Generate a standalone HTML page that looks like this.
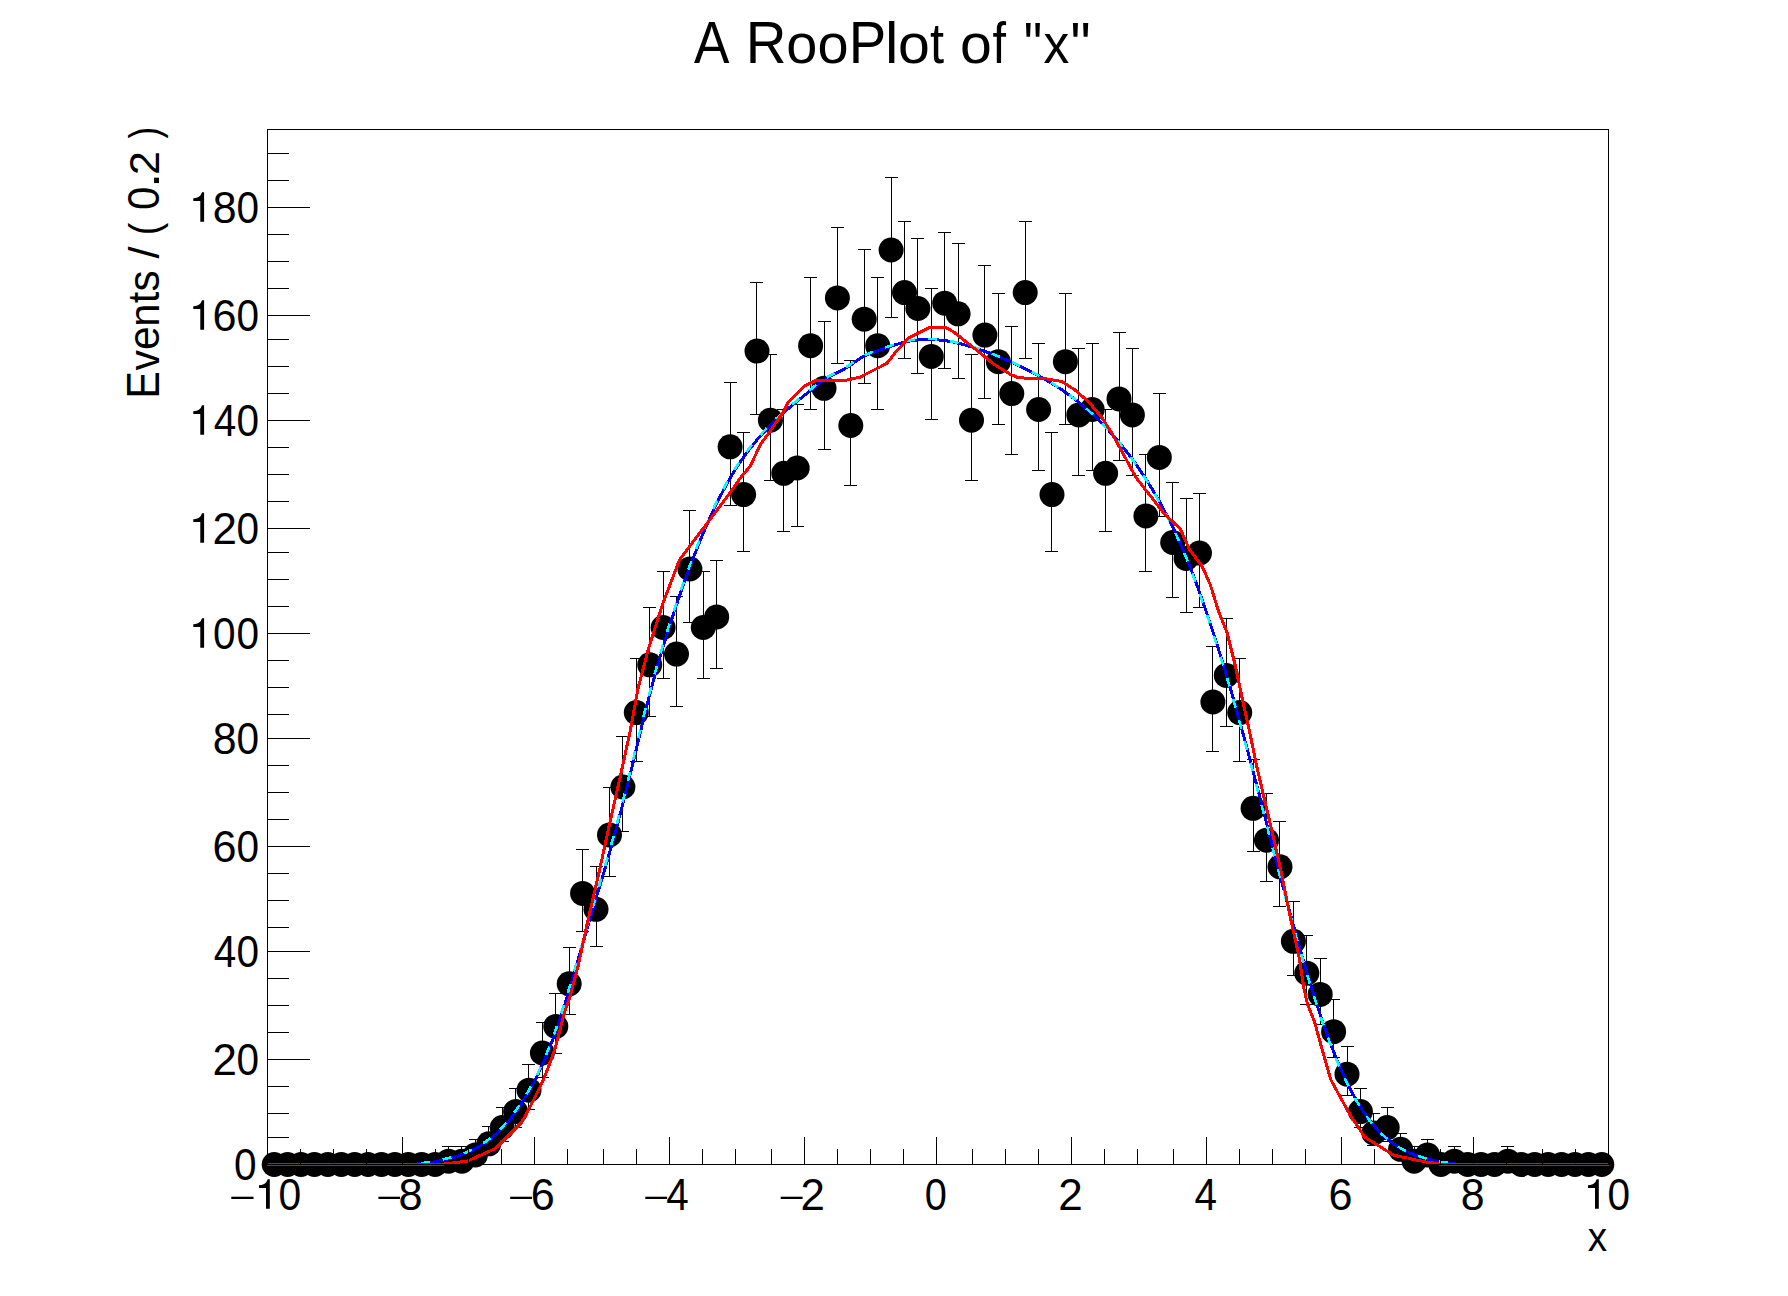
<!DOCTYPE html><html><head><meta charset="utf-8"><style>html,body{margin:0;padding:0;background:#fff;overflow:hidden}svg{display:block}</style></head><body><svg width="1788" height="1296" viewBox="0 0 1788 1296"><rect width="1788" height="1296" fill="#fff"/><path d="M274.5,1154.7V1164.5M268,1154.5H281M268,1164.5H281M287.5,1154.7V1164.5M281,1154.5H294M281,1164.5H294M301.5,1154.7V1164.5M295,1154.5H308M295,1164.5H308M314.5,1154.7V1164.5M308,1154.5H321M308,1164.5H321M327.5,1154.7V1164.5M321,1154.5H334M321,1164.5H334M341.5,1154.7V1164.5M335,1154.5H348M335,1164.5H348M354.5,1154.7V1164.5M348,1154.5H361M348,1164.5H361M368.5,1154.7V1164.5M362,1154.5H375M362,1164.5H375M381.5,1154.7V1164.5M375,1154.5H388M375,1164.5H388M394.5,1154.7V1164.5M388,1154.5H401M388,1164.5H401M408.5,1154.7V1164.5M402,1154.5H415M402,1164.5H415M421.5,1154.7V1164.5M415,1154.5H428M415,1164.5H428M435.5,1154.7V1164.5M429,1154.5H442M429,1164.5H442M448.5,1147.0V1163.6M442,1146.5H455M442,1163.5H455M461.5,1147.0V1163.6M455,1146.5H468M455,1163.5H468M475.5,1139.8V1160.7M469,1139.5H482M469,1160.5H482M488.5,1126.4V1153.4M482,1126.5H495M482,1153.5H495M502.5,1107.2V1141.0M496,1107.5H509M496,1141.5H509M515.5,1088.6V1127.9M509,1088.5H522M509,1127.5H522M528.5,1064.4V1109.7M522,1064.5H535M522,1109.5H535M542.5,1022.8V1077.0M536,1022.5H549M536,1077.5H549M555.5,993.5V1053.2M549,993.5H562M549,1053.5H562M569.5,947.1V1014.6M563,947.5H576M563,1014.5H576M582.5,849.8V931.2M576,849.5H589M576,931.5H589M596.5,866.9V946.0M590,866.5H603M590,946.5H603M609.5,787.5V876.6M603,787.5H616M603,876.5H616M622.5,736.7V831.7M616,736.5H629M616,831.5H629M636.5,658.1V761.5M630,658.5H643M630,761.5H643M649.5,607.7V716.2M643,607.5H656M643,716.5H656M663.5,571.4V678.4M657,571.5H670M657,678.5H670M676.5,596.5V706.1M670,596.5H683M670,706.5H683M689.5,510.0V622.7M683,510.5H696M683,622.5H696M703.5,571.4V678.4M697,571.5H710M697,678.5H710M716.5,560.2V668.2M710,560.5H723M710,668.5H723M730.5,382.3V505.9M724,382.5H737M724,505.5H737M743.5,432.2V551.7M737,432.5H750M737,551.5H750M756.5,282.6V414.2M750,282.5H763M750,414.5H763M770.5,354.5V480.5M764,354.5H777M764,480.5H777M783.5,410.0V531.3M777,409.5H790M777,531.5H790M797.5,404.4V526.3M791,404.5H804M791,526.5H804M810.5,277.0V409.1M804,277.5H817M804,409.5H817M824.5,321.3V449.9M818,321.5H831M818,449.5H831M837.5,227.3V363.2M831,227.5H844M831,363.5H844M850.5,360.1V485.6M844,360.5H857M844,485.5H857M864.5,249.4V383.6M858,249.5H871M858,383.5H871M877.5,277.0V409.1M871,277.5H884M871,409.5H884M891.5,177.6V317.1M885,177.5H898M885,317.5H898M904.5,221.8V358.0M898,221.5H911M898,358.5H911M917.5,238.3V373.4M911,238.5H924M911,373.5H924M931.5,288.1V419.3M925,288.5H938M925,419.5H938M944.5,232.8V368.3M938,232.5H951M938,368.5H951M958.5,243.9V378.5M952,243.5H965M952,378.5H965M971.5,354.5V480.5M965,354.5H978M965,480.5H978M984.5,266.0V398.9M978,265.5H991M978,398.5H991M998.5,293.6V424.4M992,293.5H1005M992,424.5H1005M1011.5,326.8V455.0M1005,326.5H1018M1005,454.5H1018M1025.5,221.8V358.0M1019,221.5H1032M1019,358.5H1032M1038.5,343.5V470.3M1032,343.5H1045M1032,470.5H1045M1051.5,432.2V551.7M1045,432.5H1058M1045,551.5H1058M1065.5,293.6V424.4M1059,293.5H1072M1059,424.5H1072M1078.5,349.0V475.4M1072,348.5H1085M1072,475.5H1085M1092.5,343.5V470.3M1086,343.5H1099M1086,470.5H1099M1105.5,410.0V531.3M1099,409.5H1112M1099,531.5H1112M1119.5,332.4V460.1M1113,332.5H1126M1113,460.5H1126M1132.5,349.0V475.4M1126,348.5H1139M1126,475.5H1139M1145.5,454.4V572.0M1139,454.5H1152M1139,571.5H1152M1159.5,393.3V516.1M1153,393.5H1166M1153,516.5H1166M1172.5,482.2V597.4M1166,482.5H1179M1166,597.5H1179M1186.5,498.9V612.6M1180,498.5H1193M1180,612.5H1193M1199.5,493.3V607.5M1193,493.5H1206M1193,607.5H1206M1212.5,646.8V751.4M1206,646.5H1219M1206,751.5H1219M1226.5,618.9V726.3M1220,618.5H1233M1220,726.5H1233M1239.5,658.1V761.5M1233,658.5H1246M1233,761.5H1246M1253.5,759.2V851.7M1247,759.5H1260M1247,851.5H1260M1266.5,793.1V881.6M1260,793.5H1273M1260,881.5H1273M1279.5,821.4V906.4M1273,821.5H1286M1273,906.5H1286M1293.5,901.2V975.5M1287,901.5H1300M1287,975.5H1300M1306.5,935.6V1004.9M1300,935.5H1313M1300,1004.5H1313M1320.5,958.7V1024.3M1314,958.5H1327M1314,1024.5H1327M1333.5,999.3V1058.0M1327,999.5H1340M1327,1057.5H1340M1347.5,1046.4V1095.8M1341,1046.5H1354M1341,1095.5H1354M1360.5,1088.6V1127.9M1354,1088.5H1367M1354,1127.5H1367M1373.5,1113.5V1145.3M1367,1113.5H1380M1367,1145.5H1380M1387.5,1107.2V1141.0M1381,1107.5H1394M1381,1141.5H1394M1400.5,1133.0V1157.2M1394,1133.5H1407M1394,1157.5H1407M1414.5,1147.0V1163.6M1408,1146.5H1421M1408,1163.5H1421M1427.5,1139.8V1160.7M1421,1139.5H1434M1421,1160.5H1434M1440.5,1154.7V1164.5M1434,1154.5H1447M1434,1164.5H1447M1454.5,1147.0V1163.6M1448,1146.5H1461M1448,1163.5H1461M1467.5,1154.7V1164.5M1461,1154.5H1474M1461,1164.5H1474M1481.5,1154.7V1164.5M1475,1154.5H1488M1475,1164.5H1488M1494.5,1154.7V1164.5M1488,1154.5H1501M1488,1164.5H1501M1507.5,1147.0V1163.6M1501,1146.5H1514M1501,1163.5H1514M1521.5,1154.7V1164.5M1515,1154.5H1528M1515,1164.5H1528M1534.5,1154.7V1164.5M1528,1154.5H1541M1528,1164.5H1541M1548.5,1154.7V1164.5M1542,1154.5H1555M1542,1164.5H1555M1561.5,1154.7V1164.5M1555,1154.5H1568M1555,1164.5H1568M1574.5,1154.7V1164.5M1568,1154.5H1581M1568,1164.5H1581M1588.5,1154.7V1164.5M1582,1154.5H1595M1582,1164.5H1595M1601.5,1154.7V1164.5M1595,1154.5H1608M1595,1164.5H1608" stroke="#000" stroke-width="1" fill="none" shape-rendering="crispEdges"/><g fill="#000"><circle cx="274.2" cy="1164.5" r="12.5"/><circle cx="287.6" cy="1164.5" r="12.5"/><circle cx="301.0" cy="1164.5" r="12.5"/><circle cx="314.4" cy="1164.5" r="12.5"/><circle cx="327.8" cy="1164.5" r="12.5"/><circle cx="341.3" cy="1164.5" r="12.5"/><circle cx="354.7" cy="1164.5" r="12.5"/><circle cx="368.1" cy="1164.5" r="12.5"/><circle cx="381.5" cy="1164.5" r="12.5"/><circle cx="394.9" cy="1164.5" r="12.5"/><circle cx="408.3" cy="1164.5" r="12.5"/><circle cx="421.7" cy="1164.5" r="12.5"/><circle cx="435.1" cy="1164.5" r="12.5"/><circle cx="448.5" cy="1161.2" r="12.5"/><circle cx="461.9" cy="1161.2" r="12.5"/><circle cx="475.4" cy="1154.9" r="12.5"/><circle cx="488.8" cy="1143.8" r="12.5"/><circle cx="502.2" cy="1127.6" r="12.5"/><circle cx="515.6" cy="1111.6" r="12.5"/><circle cx="529.0" cy="1090.2" r="12.5"/><circle cx="542.4" cy="1053.0" r="12.5"/><circle cx="555.8" cy="1026.4" r="12.5"/><circle cx="569.2" cy="983.8" r="12.5"/><circle cx="582.6" cy="893.4" r="12.5"/><circle cx="596.0" cy="909.3" r="12.5"/><circle cx="609.5" cy="834.9" r="12.5"/><circle cx="622.9" cy="787.0" r="12.5"/><circle cx="636.3" cy="712.6" r="12.5"/><circle cx="649.7" cy="664.8" r="12.5"/><circle cx="663.1" cy="627.5" r="12.5"/><circle cx="676.5" cy="654.1" r="12.5"/><circle cx="689.9" cy="569.0" r="12.5"/><circle cx="703.3" cy="627.5" r="12.5"/><circle cx="716.7" cy="616.9" r="12.5"/><circle cx="730.1" cy="446.8" r="12.5"/><circle cx="743.6" cy="494.6" r="12.5"/><circle cx="757.0" cy="351.1" r="12.5"/><circle cx="770.4" cy="420.2" r="12.5"/><circle cx="783.8" cy="473.3" r="12.5"/><circle cx="797.2" cy="468.0" r="12.5"/><circle cx="810.6" cy="345.7" r="12.5"/><circle cx="824.0" cy="388.3" r="12.5"/><circle cx="837.4" cy="297.9" r="12.5"/><circle cx="850.8" cy="425.5" r="12.5"/><circle cx="864.2" cy="319.2" r="12.5"/><circle cx="877.7" cy="345.7" r="12.5"/><circle cx="891.1" cy="250.0" r="12.5"/><circle cx="904.5" cy="292.6" r="12.5"/><circle cx="917.9" cy="308.5" r="12.5"/><circle cx="931.3" cy="356.4" r="12.5"/><circle cx="944.7" cy="303.2" r="12.5"/><circle cx="958.1" cy="313.8" r="12.5"/><circle cx="971.5" cy="420.2" r="12.5"/><circle cx="984.9" cy="335.1" r="12.5"/><circle cx="998.3" cy="361.7" r="12.5"/><circle cx="1011.8" cy="393.6" r="12.5"/><circle cx="1025.2" cy="292.6" r="12.5"/><circle cx="1038.6" cy="409.5" r="12.5"/><circle cx="1052.0" cy="494.6" r="12.5"/><circle cx="1065.4" cy="361.7" r="12.5"/><circle cx="1078.8" cy="414.9" r="12.5"/><circle cx="1092.2" cy="409.5" r="12.5"/><circle cx="1105.6" cy="473.3" r="12.5"/><circle cx="1119.0" cy="398.9" r="12.5"/><circle cx="1132.4" cy="414.9" r="12.5"/><circle cx="1145.9" cy="515.9" r="12.5"/><circle cx="1159.3" cy="457.4" r="12.5"/><circle cx="1172.7" cy="542.5" r="12.5"/><circle cx="1186.1" cy="558.4" r="12.5"/><circle cx="1199.5" cy="553.1" r="12.5"/><circle cx="1212.9" cy="702.0" r="12.5"/><circle cx="1226.3" cy="675.4" r="12.5"/><circle cx="1239.7" cy="712.6" r="12.5"/><circle cx="1253.1" cy="808.3" r="12.5"/><circle cx="1266.5" cy="840.2" r="12.5"/><circle cx="1280.0" cy="866.8" r="12.5"/><circle cx="1293.4" cy="941.3" r="12.5"/><circle cx="1306.8" cy="973.2" r="12.5"/><circle cx="1320.2" cy="994.4" r="12.5"/><circle cx="1333.6" cy="1031.7" r="12.5"/><circle cx="1347.0" cy="1074.2" r="12.5"/><circle cx="1360.4" cy="1111.6" r="12.5"/><circle cx="1373.8" cy="1133.0" r="12.5"/><circle cx="1387.2" cy="1127.6" r="12.5"/><circle cx="1400.6" cy="1149.3" r="12.5"/><circle cx="1414.1" cy="1161.2" r="12.5"/><circle cx="1427.5" cy="1154.9" r="12.5"/><circle cx="1440.9" cy="1164.5" r="12.5"/><circle cx="1454.3" cy="1161.2" r="12.5"/><circle cx="1467.7" cy="1164.5" r="12.5"/><circle cx="1481.1" cy="1164.5" r="12.5"/><circle cx="1494.5" cy="1164.5" r="12.5"/><circle cx="1507.9" cy="1161.2" r="12.5"/><circle cx="1521.3" cy="1164.5" r="12.5"/><circle cx="1534.7" cy="1164.5" r="12.5"/><circle cx="1548.2" cy="1164.5" r="12.5"/><circle cx="1561.6" cy="1164.5" r="12.5"/><circle cx="1575.0" cy="1164.5" r="12.5"/><circle cx="1588.4" cy="1164.5" r="12.5"/><circle cx="1601.8" cy="1164.5" r="12.5"/></g><path d="M267.5,1164.5 L268.2,1164.5 L268.8,1164.5 L269.5,1164.5 L270.2,1164.5 L270.9,1164.5 L271.5,1164.5 L272.2,1164.5 L272.9,1164.5 L273.5,1164.5 L274.2,1164.5 L274.9,1164.5 L275.5,1164.5 L276.2,1164.5 L276.9,1164.5 L277.6,1164.5 L278.2,1164.5 L278.9,1164.5 L279.6,1164.5 L280.2,1164.5 L280.9,1164.5 L281.6,1164.5 L282.3,1164.5 L282.9,1164.5 L283.6,1164.5 L284.3,1164.5 L284.9,1164.5 L285.6,1164.5 L286.3,1164.5 L286.9,1164.5 L287.6,1164.5 L288.3,1164.5 L289.0,1164.5 L289.6,1164.5 L290.3,1164.5 L291.0,1164.5 L291.6,1164.5 L292.3,1164.5 L293.0,1164.5 L293.6,1164.5 L294.3,1164.5 L295.0,1164.5 L295.7,1164.5 L296.3,1164.5 L297.0,1164.5 L297.7,1164.5 L298.3,1164.5 L299.0,1164.5 L299.7,1164.5 L300.4,1164.5 L301.0,1164.5 L301.7,1164.5 L302.4,1164.5 L303.0,1164.5 L303.7,1164.5 L304.4,1164.5 L305.0,1164.5 L305.7,1164.5 L306.4,1164.5 L307.1,1164.5 L307.7,1164.5 L308.4,1164.5 L309.1,1164.5 L309.7,1164.5 L310.4,1164.5 L311.1,1164.5 L311.8,1164.5 L312.4,1164.5 L313.1,1164.5 L313.8,1164.5 L314.4,1164.5 L315.1,1164.5 L315.8,1164.5 L316.4,1164.5 L317.1,1164.5 L317.8,1164.5 L318.5,1164.5 L319.1,1164.5 L319.8,1164.5 L320.5,1164.5 L321.1,1164.5 L321.8,1164.5 L322.5,1164.5 L323.2,1164.5 L323.8,1164.5 L324.5,1164.5 L325.2,1164.5 L325.8,1164.5 L326.5,1164.5 L327.2,1164.5 L327.8,1164.5 L328.5,1164.5 L329.2,1164.5 L329.9,1164.5 L330.5,1164.5 L331.2,1164.5 L331.9,1164.5 L332.5,1164.5 L333.2,1164.5 L333.9,1164.5 L334.6,1164.5 L335.2,1164.5 L335.9,1164.5 L336.6,1164.5 L337.2,1164.5 L337.9,1164.5 L338.6,1164.5 L339.2,1164.5 L339.9,1164.5 L340.6,1164.5 L341.3,1164.5 L341.9,1164.5 L342.6,1164.5 L343.3,1164.5 L343.9,1164.5 L344.6,1164.5 L345.3,1164.5 L345.9,1164.5 L346.6,1164.5 L347.3,1164.5 L348.0,1164.5 L348.6,1164.5 L349.3,1164.5 L350.0,1164.5 L350.6,1164.5 L351.3,1164.5 L352.0,1164.5 L352.7,1164.5 L353.3,1164.5 L354.0,1164.5 L354.7,1164.5 L355.3,1164.5 L356.0,1164.5 L356.7,1164.5 L357.3,1164.5 L358.0,1164.5 L358.7,1164.5 L359.4,1164.5 L360.0,1164.5 L360.7,1164.5 L361.4,1164.5 L362.0,1164.5 L362.7,1164.5 L363.4,1164.5 L364.1,1164.5 L364.7,1164.5 L365.4,1164.5 L366.1,1164.5 L366.7,1164.5 L367.4,1164.5 L368.1,1164.5 L368.7,1164.5 L369.4,1164.5 L370.1,1164.5 L370.8,1164.5 L371.4,1164.5 L372.1,1164.5 L372.8,1164.5 L373.4,1164.5 L374.1,1164.5 L374.8,1164.5 L375.5,1164.5 L376.1,1164.5 L376.8,1164.5 L377.5,1164.5 L378.1,1164.5 L378.8,1164.5 L379.5,1164.5 L380.1,1164.5 L380.8,1164.5 L381.5,1164.5 L382.2,1164.5 L382.8,1164.5 L383.5,1164.5 L384.2,1164.5 L384.8,1164.5 L385.5,1164.5 L386.2,1164.5 L386.8,1164.5 L387.5,1164.5 L388.2,1164.5 L388.9,1164.5 L389.5,1164.5 L390.2,1164.5 L390.9,1164.5 L391.5,1164.5 L392.2,1164.5 L392.9,1164.5 L393.6,1164.5 L394.2,1164.5 L394.9,1164.5 L395.6,1164.5 L396.2,1164.5 L396.9,1164.5 L397.6,1164.5 L398.2,1164.5 L398.9,1164.5 L399.6,1164.5 L400.3,1164.5 L400.9,1164.5 L401.6,1164.5 L402.3,1164.5 L402.9,1164.5 L403.6,1164.5 L404.3,1164.5 L405.0,1164.5 L405.6,1164.5 L406.3,1164.5 L407.0,1164.5 L407.6,1164.5 L408.3,1164.5 L409.0,1164.5 L409.6,1164.5 L410.3,1164.4 L411.0,1164.4 L411.7,1164.3 L412.3,1164.3 L413.0,1164.3 L413.7,1164.2 L414.3,1164.2 L415.0,1164.1 L415.7,1164.1 L416.4,1164.0 L417.0,1164.0 L417.7,1163.9 L418.4,1163.9 L419.0,1163.8 L419.7,1163.8 L420.4,1163.7 L421.0,1163.6 L421.7,1163.6 L422.4,1163.5 L423.1,1163.4 L423.7,1163.4 L424.4,1163.3 L425.1,1163.2 L425.7,1163.2 L426.4,1163.1 L427.1,1163.0 L427.7,1162.9 L428.4,1162.8 L429.1,1162.7 L429.8,1162.6 L430.4,1162.5 L431.1,1162.4 L431.8,1162.3 L432.4,1162.2 L433.1,1162.1 L433.8,1162.0 L434.5,1161.9 L435.1,1161.8 L435.8,1161.6 L436.5,1161.5 L437.1,1161.4 L437.8,1161.3 L438.5,1161.1 L439.1,1161.0 L439.8,1160.8 L440.5,1160.7 L441.2,1160.5 L441.8,1160.4 L442.5,1160.2 L443.2,1160.1 L443.8,1159.9 L444.5,1159.7 L445.2,1159.6 L445.9,1159.4 L446.5,1159.2 L447.2,1159.1 L447.9,1158.9 L448.5,1158.7 L449.2,1158.5 L449.9,1158.3 L450.5,1158.2 L451.2,1158.0 L451.9,1157.8 L452.6,1157.6 L453.2,1157.4 L453.9,1157.2 L454.6,1157.0 L455.2,1156.8 L455.9,1156.6 L456.6,1156.4 L457.3,1156.2 L457.9,1156.0 L458.6,1155.7 L459.3,1155.5 L459.9,1155.3 L460.6,1155.0 L461.3,1154.8 L461.9,1154.6 L462.6,1154.3 L463.3,1154.1 L464.0,1153.8 L464.6,1153.6 L465.3,1153.3 L466.0,1153.0 L466.6,1152.8 L467.3,1152.5 L468.0,1152.2 L468.6,1151.9 L469.3,1151.6 L470.0,1151.3 L470.7,1151.0 L471.3,1150.7 L472.0,1150.4 L472.7,1150.0 L473.3,1149.7 L474.0,1149.4 L474.7,1149.0 L475.4,1148.7 L476.0,1148.3 L476.7,1148.0 L477.4,1147.6 L478.0,1147.2 L478.7,1146.8 L479.4,1146.4 L480.0,1146.0 L480.7,1145.6 L481.4,1145.2 L482.1,1144.8 L482.7,1144.4 L483.4,1143.9 L484.1,1143.5 L484.7,1143.0 L485.4,1142.6 L486.1,1142.1 L486.8,1141.6 L487.4,1141.1 L488.1,1140.6 L488.8,1140.1 L489.4,1139.6 L490.1,1139.1 L490.8,1138.6 L491.4,1138.0 L492.1,1137.5 L492.8,1136.9 L493.5,1136.3 L494.1,1135.8 L494.8,1135.2 L495.5,1134.6 L496.1,1134.0 L496.8,1133.4 L497.5,1132.8 L498.2,1132.1 L498.8,1131.5 L499.5,1130.8 L500.2,1130.2 L500.8,1129.5 L501.5,1128.8 L502.2,1128.1 L502.8,1127.4 L503.5,1126.7 L504.2,1126.0 L504.9,1125.3 L505.5,1124.5 L506.2,1123.8 L506.9,1123.0 L507.5,1122.2 L508.2,1121.4 L508.9,1120.6 L509.6,1119.8 L510.2,1119.0 L510.9,1118.2 L511.6,1117.3 L512.2,1116.5 L512.9,1115.6 L513.6,1114.7 L514.2,1113.8 L514.9,1112.9 L515.6,1112.0 L516.3,1111.1 L516.9,1110.2 L517.6,1109.2 L518.3,1108.3 L518.9,1107.3 L519.6,1106.3 L520.3,1105.3 L520.9,1104.3 L521.6,1103.3 L522.3,1102.3 L523.0,1101.2 L523.6,1100.2 L524.3,1099.1 L525.0,1098.0 L525.6,1096.9 L526.3,1095.8 L527.0,1094.7 L527.7,1093.5 L528.3,1092.4 L529.0,1091.2 L529.7,1090.1 L530.3,1088.9 L531.0,1087.7 L531.7,1086.4 L532.3,1085.2 L533.0,1084.0 L533.7,1082.7 L534.4,1081.4 L535.0,1080.1 L535.7,1078.8 L536.4,1077.5 L537.0,1076.1 L537.7,1074.8 L538.4,1073.4 L539.1,1072.0 L539.7,1070.6 L540.4,1069.2 L541.1,1067.7 L541.7,1066.3 L542.4,1064.8 L543.1,1063.3 L543.7,1061.8 L544.4,1060.3 L545.1,1058.7 L545.8,1057.1 L546.4,1055.6 L547.1,1053.9 L547.8,1052.3 L548.4,1050.7 L549.1,1049.0 L549.8,1047.3 L550.5,1045.6 L551.1,1043.9 L551.8,1042.2 L552.5,1040.4 L553.1,1038.6 L553.8,1036.8 L554.5,1035.0 L555.1,1033.2 L555.8,1031.3 L556.5,1029.4 L557.2,1027.5 L557.8,1025.6 L558.5,1023.7 L559.2,1021.7 L559.8,1019.7 L560.5,1017.7 L561.2,1015.7 L561.8,1013.7 L562.5,1011.6 L563.2,1009.5 L563.9,1007.4 L564.5,1005.3 L565.2,1003.2 L565.9,1001.0 L566.5,998.9 L567.2,996.7 L567.9,994.5 L568.6,992.3 L569.2,990.1 L569.9,987.8 L570.6,985.6 L571.2,983.3 L571.9,981.1 L572.6,978.8 L573.2,976.5 L573.9,974.2 L574.6,971.9 L575.3,969.6 L575.9,967.3 L576.6,965.0 L577.3,962.7 L577.9,960.3 L578.6,958.0 L579.3,955.7 L580.0,953.4 L580.6,951.0 L581.3,948.7 L582.0,946.4 L582.6,944.0 L583.3,941.7 L584.0,939.4 L584.6,937.0 L585.3,934.7 L586.0,932.4 L586.7,930.1 L587.3,927.8 L588.0,925.5 L588.7,923.2 L589.3,920.9 L590.0,918.6 L590.7,916.4 L591.4,914.1 L592.0,911.8 L592.7,909.6 L593.4,907.3 L594.0,905.1 L594.7,902.9 L595.4,900.6 L596.0,898.4 L596.7,896.1 L597.4,893.9 L598.1,891.7 L598.7,889.4 L599.4,887.2 L600.1,885.0 L600.7,882.7 L601.4,880.5 L602.1,878.2 L602.8,876.0 L603.4,873.7 L604.1,871.5 L604.8,869.2 L605.4,866.9 L606.1,864.6 L606.8,862.3 L607.4,860.0 L608.1,857.7 L608.8,855.4 L609.5,853.1 L610.1,850.7 L610.8,848.4 L611.5,846.0 L612.1,843.6 L612.8,841.2 L613.5,838.8 L614.1,836.4 L614.8,834.0 L615.5,831.5 L616.2,829.1 L616.8,826.6 L617.5,824.1 L618.2,821.6 L618.8,819.0 L619.5,816.5 L620.2,813.9 L620.9,811.3 L621.5,808.7 L622.2,806.1 L622.9,803.5 L623.5,800.9 L624.2,798.3 L624.9,795.6 L625.5,792.9 L626.2,790.3 L626.9,787.6 L627.6,784.9 L628.2,782.2 L628.9,779.5 L629.6,776.8 L630.2,774.0 L630.9,771.3 L631.6,768.5 L632.3,765.8 L632.9,763.0 L633.6,760.3 L634.3,757.5 L634.9,754.7 L635.6,752.0 L636.3,749.2 L636.9,746.4 L637.6,743.6 L638.3,740.8 L639.0,738.0 L639.6,735.2 L640.3,732.5 L641.0,729.7 L641.6,726.9 L642.3,724.1 L643.0,721.4 L643.7,718.6 L644.3,715.9 L645.0,713.2 L645.7,710.5 L646.3,707.8 L647.0,705.2 L647.7,702.5 L648.3,699.9 L649.0,697.3 L649.7,694.7 L650.4,692.2 L651.0,689.6 L651.7,687.1 L652.4,684.6 L653.0,682.1 L653.7,679.7 L654.4,677.2 L655.0,674.8 L655.7,672.4 L656.4,670.0 L657.1,667.6 L657.7,665.2 L658.4,662.9 L659.1,660.5 L659.7,658.2 L660.4,655.9 L661.1,653.6 L661.8,651.3 L662.4,649.1 L663.1,646.9 L663.8,644.6 L664.4,642.4 L665.1,640.2 L665.8,638.0 L666.4,635.9 L667.1,633.7 L667.8,631.6 L668.5,629.4 L669.1,627.3 L669.8,625.2 L670.5,623.1 L671.1,621.0 L671.8,619.0 L672.5,616.9 L673.2,614.9 L673.8,612.8 L674.5,610.8 L675.2,608.8 L675.8,606.8 L676.5,604.8 L677.2,602.8 L677.8,600.8 L678.5,598.9 L679.2,596.9 L679.9,594.9 L680.5,593.0 L681.2,591.1 L681.9,589.2 L682.5,587.2 L683.2,585.3 L683.9,583.4 L684.6,581.6 L685.2,579.7 L685.9,577.8 L686.6,576.0 L687.2,574.1 L687.9,572.3 L688.6,570.5 L689.2,568.6 L689.9,566.8 L690.6,565.0 L691.3,563.3 L691.9,561.5 L692.6,559.7 L693.3,558.0 L693.9,556.2 L694.6,554.5 L695.3,552.8 L695.9,551.1 L696.6,549.4 L697.3,547.7 L698.0,546.0 L698.6,544.3 L699.3,542.7 L700.0,541.0 L700.6,539.4 L701.3,537.8 L702.0,536.1 L702.7,534.5 L703.3,532.9 L704.0,531.4 L704.7,529.8 L705.3,528.2 L706.0,526.7 L706.7,525.1 L707.3,523.6 L708.0,522.1 L708.7,520.6 L709.4,519.1 L710.0,517.6 L710.7,516.1 L711.4,514.7 L712.0,513.2 L712.7,511.8 L713.4,510.3 L714.1,508.9 L714.7,507.5 L715.4,506.1 L716.1,504.7 L716.7,503.4 L717.4,502.0 L718.1,500.6 L718.7,499.3 L719.4,498.0 L720.1,496.6 L720.8,495.3 L721.4,494.0 L722.1,492.8 L722.8,491.5 L723.4,490.2 L724.1,489.0 L724.8,487.7 L725.5,486.5 L726.1,485.3 L726.8,484.0 L727.5,482.8 L728.1,481.7 L728.8,480.5 L729.5,479.3 L730.1,478.1 L730.8,477.0 L731.5,475.9 L732.2,474.7 L732.8,473.6 L733.5,472.5 L734.2,471.4 L734.8,470.3 L735.5,469.3 L736.2,468.2 L736.8,467.2 L737.5,466.1 L738.2,465.1 L738.9,464.1 L739.5,463.1 L740.2,462.1 L740.9,461.1 L741.5,460.1 L742.2,459.1 L742.9,458.2 L743.6,457.2 L744.2,456.3 L744.9,455.3 L745.6,454.4 L746.2,453.5 L746.9,452.6 L747.6,451.7 L748.2,450.8 L748.9,449.9 L749.6,449.1 L750.3,448.2 L750.9,447.3 L751.6,446.5 L752.3,445.7 L752.9,444.8 L753.6,444.0 L754.3,443.2 L755.0,442.4 L755.6,441.6 L756.3,440.8 L757.0,440.0 L757.6,439.2 L758.3,438.4 L759.0,437.6 L759.6,436.9 L760.3,436.1 L761.0,435.3 L761.7,434.6 L762.3,433.9 L763.0,433.1 L763.7,432.4 L764.3,431.7 L765.0,430.9 L765.7,430.2 L766.4,429.5 L767.0,428.8 L767.7,428.1 L768.4,427.4 L769.0,426.7 L769.7,426.0 L770.4,425.3 L771.0,424.6 L771.7,424.0 L772.4,423.3 L773.1,422.6 L773.7,422.0 L774.4,421.3 L775.1,420.7 L775.7,420.0 L776.4,419.4 L777.1,418.7 L777.8,418.1 L778.4,417.4 L779.1,416.8 L779.8,416.2 L780.4,415.6 L781.1,415.0 L781.8,414.3 L782.4,413.7 L783.1,413.1 L783.8,412.5 L784.5,411.9 L785.1,411.3 L785.8,410.7 L786.5,410.1 L787.1,409.6 L787.8,409.0 L788.5,408.4 L789.1,407.8 L789.8,407.3 L790.5,406.7 L791.2,406.1 L791.8,405.6 L792.5,405.0 L793.2,404.4 L793.8,403.9 L794.5,403.4 L795.2,402.8 L795.9,402.3 L796.5,401.7 L797.2,401.2 L797.9,400.6 L798.5,400.1 L799.2,399.6 L799.9,399.0 L800.5,398.5 L801.2,398.0 L801.9,397.4 L802.6,396.9 L803.2,396.3 L803.9,395.8 L804.6,395.3 L805.2,394.7 L805.9,394.2 L806.6,393.6 L807.3,393.1 L807.9,392.5 L808.6,392.0 L809.3,391.4 L809.9,390.9 L810.6,390.4 L811.3,389.8 L811.9,389.3 L812.6,388.7 L813.3,388.2 L814.0,387.7 L814.6,387.1 L815.3,386.6 L816.0,386.1 L816.6,385.5 L817.3,385.0 L818.0,384.5 L818.7,384.0 L819.3,383.5 L820.0,383.0 L820.7,382.5 L821.3,382.0 L822.0,381.5 L822.7,381.0 L823.3,380.6 L824.0,380.1 L824.7,379.6 L825.4,379.2 L826.0,378.8 L826.7,378.3 L827.4,377.9 L828.0,377.5 L828.7,377.1 L829.4,376.7 L830.0,376.3 L830.7,375.9 L831.4,375.5 L832.1,375.2 L832.7,374.8 L833.4,374.5 L834.1,374.1 L834.7,373.8 L835.4,373.5 L836.1,373.1 L836.8,372.8 L837.4,372.5 L838.1,372.1 L838.8,371.8 L839.4,371.5 L840.1,371.1 L840.8,370.8 L841.4,370.5 L842.1,370.1 L842.8,369.8 L843.5,369.4 L844.1,369.0 L844.8,368.7 L845.5,368.3 L846.1,367.9 L846.8,367.5 L847.5,367.1 L848.2,366.6 L848.8,366.2 L849.5,365.8 L850.2,365.3 L850.8,364.8 L851.5,364.4 L852.2,363.9 L852.8,363.4 L853.5,362.9 L854.2,362.4 L854.9,361.9 L855.5,361.5 L856.2,361.0 L856.9,360.5 L857.5,360.1 L858.2,359.6 L858.9,359.2 L859.6,358.7 L860.2,358.3 L860.9,357.9 L861.6,357.5 L862.2,357.2 L862.9,356.8 L863.6,356.5 L864.2,356.1 L864.9,355.8 L865.6,355.5 L866.3,355.2 L866.9,354.9 L867.6,354.6 L868.3,354.3 L868.9,354.1 L869.6,353.8 L870.3,353.5 L870.9,353.3 L871.6,353.0 L872.3,352.8 L873.0,352.6 L873.6,352.3 L874.3,352.1 L875.0,351.9 L875.6,351.6 L876.3,351.4 L877.0,351.2 L877.7,350.9 L878.3,350.7 L879.0,350.5 L879.7,350.2 L880.3,350.0 L881.0,349.7 L881.7,349.5 L882.3,349.3 L883.0,349.0 L883.7,348.8 L884.4,348.5 L885.0,348.3 L885.7,348.1 L886.4,347.8 L887.0,347.6 L887.7,347.3 L888.4,347.1 L889.1,346.8 L889.7,346.6 L890.4,346.4 L891.1,346.1 L891.7,345.9 L892.4,345.7 L893.1,345.5 L893.7,345.2 L894.4,345.0 L895.1,344.8 L895.8,344.6 L896.4,344.4 L897.1,344.2 L897.8,344.0 L898.4,343.8 L899.1,343.6 L899.8,343.4 L900.5,343.2 L901.1,343.0 L901.8,342.8 L902.5,342.6 L903.1,342.5 L903.8,342.3 L904.5,342.2 L905.1,342.0 L905.8,341.8 L906.5,341.7 L907.2,341.6 L907.8,341.4 L908.5,341.3 L909.2,341.2 L909.8,341.1 L910.5,340.9 L911.2,340.8 L911.9,340.7 L912.5,340.6 L913.2,340.5 L913.9,340.4 L914.5,340.3 L915.2,340.2 L915.9,340.2 L916.5,340.1 L917.2,340.0 L917.9,339.9 L918.6,339.9 L919.2,339.8 L919.9,339.8 L920.6,339.7 L921.2,339.7 L921.9,339.6 L922.6,339.6 L923.2,339.6 L923.9,339.5 L924.6,339.5 L925.3,339.5 L925.9,339.5 L926.6,339.5 L927.3,339.5 L927.9,339.4 L928.6,339.4 L929.3,339.5 L930.0,339.5 L930.6,339.5 L931.3,339.5 L932.0,339.5 L932.6,339.5 L933.3,339.6 L934.0,339.6 L934.6,339.6 L935.3,339.7 L936.0,339.7 L936.7,339.8 L937.3,339.8 L938.0,339.9 L938.7,339.9 L939.3,340.0 L940.0,340.1 L940.7,340.1 L941.4,340.2 L942.0,340.3 L942.7,340.4 L943.4,340.5 L944.0,340.5 L944.7,340.6 L945.4,340.7 L946.0,340.8 L946.7,340.9 L947.4,341.0 L948.1,341.2 L948.7,341.3 L949.4,341.4 L950.1,341.5 L950.7,341.6 L951.4,341.8 L952.1,341.9 L952.8,342.0 L953.4,342.2 L954.1,342.3 L954.8,342.4 L955.4,342.6 L956.1,342.7 L956.8,342.9 L957.4,343.0 L958.1,343.2 L958.8,343.3 L959.5,343.5 L960.1,343.7 L960.8,343.8 L961.5,344.0 L962.1,344.2 L962.8,344.4 L963.5,344.5 L964.1,344.7 L964.8,344.9 L965.5,345.1 L966.2,345.3 L966.8,345.5 L967.5,345.7 L968.2,345.9 L968.8,346.1 L969.5,346.3 L970.2,346.5 L970.9,346.7 L971.5,346.9 L972.2,347.1 L972.9,347.3 L973.5,347.5 L974.2,347.7 L974.9,348.0 L975.5,348.2 L976.2,348.4 L976.9,348.6 L977.6,348.9 L978.2,349.1 L978.9,349.3 L979.6,349.5 L980.2,349.8 L980.9,350.0 L981.6,350.2 L982.3,350.5 L982.9,350.7 L983.6,351.0 L984.3,351.2 L984.9,351.5 L985.6,351.7 L986.3,351.9 L986.9,352.2 L987.6,352.4 L988.3,352.7 L989.0,352.9 L989.6,353.2 L990.3,353.4 L991.0,353.7 L991.6,354.0 L992.3,354.2 L993.0,354.5 L993.7,354.7 L994.3,355.0 L995.0,355.3 L995.7,355.5 L996.3,355.8 L997.0,356.1 L997.7,356.3 L998.3,356.6 L999.0,356.9 L999.7,357.2 L1000.4,357.4 L1001.0,357.7 L1001.7,358.0 L1002.4,358.3 L1003.0,358.5 L1003.7,358.8 L1004.4,359.1 L1005.0,359.4 L1005.7,359.7 L1006.4,360.0 L1007.1,360.3 L1007.7,360.6 L1008.4,360.8 L1009.1,361.1 L1009.7,361.4 L1010.4,361.7 L1011.1,362.0 L1011.8,362.3 L1012.4,362.6 L1013.1,362.9 L1013.8,363.2 L1014.4,363.6 L1015.1,363.9 L1015.8,364.2 L1016.4,364.5 L1017.1,364.8 L1017.8,365.1 L1018.5,365.4 L1019.1,365.7 L1019.8,366.1 L1020.5,366.4 L1021.1,366.7 L1021.8,367.0 L1022.5,367.4 L1023.2,367.7 L1023.8,368.0 L1024.5,368.3 L1025.2,368.7 L1025.8,369.0 L1026.5,369.3 L1027.2,369.7 L1027.8,370.0 L1028.5,370.4 L1029.2,370.7 L1029.9,371.0 L1030.5,371.4 L1031.2,371.7 L1031.9,372.1 L1032.5,372.4 L1033.2,372.8 L1033.9,373.1 L1034.6,373.5 L1035.2,373.9 L1035.9,374.2 L1036.6,374.6 L1037.2,375.0 L1037.9,375.3 L1038.6,375.7 L1039.2,376.1 L1039.9,376.4 L1040.6,376.8 L1041.3,377.2 L1041.9,377.6 L1042.6,377.9 L1043.3,378.3 L1043.9,378.7 L1044.6,379.1 L1045.3,379.5 L1046.0,379.9 L1046.6,380.3 L1047.3,380.7 L1048.0,381.1 L1048.6,381.5 L1049.3,381.9 L1050.0,382.3 L1050.6,382.7 L1051.3,383.1 L1052.0,383.5 L1052.7,383.9 L1053.3,384.3 L1054.0,384.7 L1054.7,385.2 L1055.3,385.6 L1056.0,386.0 L1056.7,386.5 L1057.3,386.9 L1058.0,387.3 L1058.7,387.8 L1059.4,388.2 L1060.0,388.6 L1060.7,389.1 L1061.4,389.5 L1062.0,390.0 L1062.7,390.4 L1063.4,390.9 L1064.1,391.4 L1064.7,391.8 L1065.4,392.3 L1066.1,392.8 L1066.7,393.2 L1067.4,393.7 L1068.1,394.2 L1068.7,394.7 L1069.4,395.2 L1070.1,395.7 L1070.8,396.2 L1071.4,396.7 L1072.1,397.2 L1072.8,397.7 L1073.4,398.2 L1074.1,398.7 L1074.8,399.2 L1075.5,399.7 L1076.1,400.2 L1076.8,400.8 L1077.5,401.3 L1078.1,401.8 L1078.8,402.4 L1079.5,402.9 L1080.1,403.5 L1080.8,404.0 L1081.5,404.6 L1082.2,405.1 L1082.8,405.7 L1083.5,406.3 L1084.2,406.8 L1084.8,407.4 L1085.5,408.0 L1086.2,408.6 L1086.9,409.2 L1087.5,409.7 L1088.2,410.3 L1088.9,410.9 L1089.5,411.5 L1090.2,412.1 L1090.9,412.8 L1091.5,413.4 L1092.2,414.0 L1092.9,414.6 L1093.6,415.2 L1094.2,415.9 L1094.9,416.5 L1095.6,417.1 L1096.2,417.8 L1096.9,418.4 L1097.6,419.1 L1098.2,419.7 L1098.9,420.4 L1099.6,421.1 L1100.3,421.7 L1100.9,422.4 L1101.6,423.1 L1102.3,423.8 L1102.9,424.4 L1103.6,425.1 L1104.3,425.8 L1105.0,426.5 L1105.6,427.2 L1106.3,427.9 L1107.0,428.7 L1107.6,429.4 L1108.3,430.1 L1109.0,430.8 L1109.6,431.5 L1110.3,432.3 L1111.0,433.0 L1111.7,433.8 L1112.3,434.5 L1113.0,435.3 L1113.7,436.0 L1114.3,436.8 L1115.0,437.6 L1115.7,438.3 L1116.4,439.1 L1117.0,439.9 L1117.7,440.7 L1118.4,441.5 L1119.0,442.3 L1119.7,443.1 L1120.4,443.9 L1121.0,444.7 L1121.7,445.5 L1122.4,446.4 L1123.1,447.2 L1123.7,448.0 L1124.4,448.9 L1125.1,449.7 L1125.7,450.6 L1126.4,451.4 L1127.1,452.3 L1127.8,453.2 L1128.4,454.0 L1129.1,454.9 L1129.8,455.8 L1130.4,456.7 L1131.1,457.6 L1131.8,458.5 L1132.4,459.4 L1133.1,460.3 L1133.8,461.3 L1134.5,462.2 L1135.1,463.1 L1135.8,464.1 L1136.5,465.0 L1137.1,466.0 L1137.8,466.9 L1138.5,467.9 L1139.2,468.9 L1139.8,469.8 L1140.5,470.8 L1141.2,471.8 L1141.8,472.8 L1142.5,473.8 L1143.2,474.9 L1143.8,475.9 L1144.5,476.9 L1145.2,477.9 L1145.9,479.0 L1146.5,480.0 L1147.2,481.1 L1147.9,482.1 L1148.5,483.2 L1149.2,484.3 L1149.9,485.4 L1150.5,486.5 L1151.2,487.6 L1151.9,488.7 L1152.6,489.8 L1153.2,490.9 L1153.9,492.0 L1154.6,493.2 L1155.2,494.3 L1155.9,495.5 L1156.6,496.6 L1157.3,497.8 L1157.9,499.0 L1158.6,500.2 L1159.3,501.4 L1159.9,502.6 L1160.6,503.8 L1161.3,505.0 L1161.9,506.2 L1162.6,507.5 L1163.3,508.7 L1164.0,510.0 L1164.6,511.2 L1165.3,512.5 L1166.0,513.8 L1166.6,515.1 L1167.3,516.4 L1168.0,517.7 L1168.7,519.0 L1169.3,520.3 L1170.0,521.6 L1170.7,523.0 L1171.3,524.3 L1172.0,525.7 L1172.7,527.0 L1173.3,528.4 L1174.0,529.8 L1174.7,531.2 L1175.4,532.6 L1176.0,534.0 L1176.7,535.4 L1177.4,536.9 L1178.0,538.3 L1178.7,539.8 L1179.4,541.2 L1180.1,542.7 L1180.7,544.2 L1181.4,545.7 L1182.1,547.2 L1182.7,548.8 L1183.4,550.3 L1184.1,551.9 L1184.7,553.5 L1185.4,555.1 L1186.1,556.7 L1186.8,558.3 L1187.4,560.0 L1188.1,561.7 L1188.8,563.4 L1189.4,565.1 L1190.1,566.8 L1190.8,568.6 L1191.4,570.3 L1192.1,572.1 L1192.8,573.9 L1193.5,575.7 L1194.1,577.5 L1194.8,579.3 L1195.5,581.2 L1196.1,583.0 L1196.8,584.9 L1197.5,586.7 L1198.2,588.6 L1198.8,590.5 L1199.5,592.4 L1200.2,594.3 L1200.8,596.2 L1201.5,598.1 L1202.2,600.0 L1202.8,601.9 L1203.5,603.8 L1204.2,605.8 L1204.9,607.7 L1205.5,609.7 L1206.2,611.6 L1206.9,613.6 L1207.5,615.6 L1208.2,617.5 L1208.9,619.5 L1209.6,621.5 L1210.2,623.5 L1210.9,625.6 L1211.6,627.6 L1212.2,629.6 L1212.9,631.7 L1213.6,633.7 L1214.2,635.8 L1214.9,637.9 L1215.6,639.9 L1216.3,642.0 L1216.9,644.1 L1217.6,646.3 L1218.3,648.4 L1218.9,650.5 L1219.6,652.7 L1220.3,654.8 L1221.0,657.0 L1221.6,659.1 L1222.3,661.3 L1223.0,663.5 L1223.6,665.7 L1224.3,667.9 L1225.0,670.1 L1225.6,672.4 L1226.3,674.6 L1227.0,676.9 L1227.7,679.1 L1228.3,681.4 L1229.0,683.7 L1229.7,686.0 L1230.3,688.3 L1231.0,690.6 L1231.7,692.9 L1232.3,695.3 L1233.0,697.6 L1233.7,700.0 L1234.4,702.3 L1235.0,704.7 L1235.7,707.1 L1236.4,709.5 L1237.0,711.8 L1237.7,714.3 L1238.4,716.7 L1239.1,719.1 L1239.7,721.5 L1240.4,723.9 L1241.1,726.4 L1241.7,728.8 L1242.4,731.3 L1243.1,733.8 L1243.7,736.2 L1244.4,738.7 L1245.1,741.2 L1245.8,743.7 L1246.4,746.2 L1247.1,748.7 L1247.8,751.2 L1248.4,753.7 L1249.1,756.2 L1249.8,758.7 L1250.5,761.3 L1251.1,763.8 L1251.8,766.3 L1252.5,768.9 L1253.1,771.4 L1253.8,774.0 L1254.5,776.5 L1255.1,779.1 L1255.8,781.7 L1256.5,784.2 L1257.2,786.8 L1257.8,789.4 L1258.5,792.0 L1259.2,794.6 L1259.8,797.1 L1260.5,799.7 L1261.2,802.3 L1261.9,804.9 L1262.5,807.5 L1263.2,810.1 L1263.9,812.7 L1264.5,815.3 L1265.2,817.9 L1265.9,820.5 L1266.5,823.1 L1267.2,825.7 L1267.9,828.3 L1268.6,830.9 L1269.2,833.5 L1269.9,836.1 L1270.6,838.7 L1271.2,841.3 L1271.9,843.9 L1272.6,846.5 L1273.2,849.0 L1273.9,851.6 L1274.6,854.2 L1275.3,856.8 L1275.9,859.4 L1276.6,862.0 L1277.3,864.6 L1277.9,867.1 L1278.6,869.7 L1279.3,872.3 L1280.0,874.8 L1280.6,877.4 L1281.3,880.0 L1282.0,882.5 L1282.6,885.1 L1283.3,887.6 L1284.0,890.2 L1284.6,892.7 L1285.3,895.2 L1286.0,897.7 L1286.7,900.3 L1287.3,902.8 L1288.0,905.3 L1288.7,907.8 L1289.3,910.3 L1290.0,912.8 L1290.7,915.2 L1291.4,917.7 L1292.0,920.2 L1292.7,922.6 L1293.4,925.1 L1294.0,927.5 L1294.7,930.0 L1295.4,932.4 L1296.0,934.8 L1296.7,937.2 L1297.4,939.6 L1298.1,942.0 L1298.7,944.4 L1299.4,946.7 L1300.1,949.1 L1300.7,951.4 L1301.4,953.8 L1302.1,956.1 L1302.8,958.4 L1303.4,960.7 L1304.1,963.0 L1304.8,965.3 L1305.4,967.6 L1306.1,969.9 L1306.8,972.1 L1307.4,974.4 L1308.1,976.6 L1308.8,978.8 L1309.5,981.0 L1310.1,983.2 L1310.8,985.4 L1311.5,987.6 L1312.1,989.7 L1312.8,991.9 L1313.5,994.0 L1314.2,996.1 L1314.8,998.2 L1315.5,1000.3 L1316.2,1002.4 L1316.8,1004.5 L1317.5,1006.5 L1318.2,1008.6 L1318.8,1010.6 L1319.5,1012.6 L1320.2,1014.6 L1320.9,1016.6 L1321.5,1018.6 L1322.2,1020.5 L1322.9,1022.5 L1323.5,1024.4 L1324.2,1026.3 L1324.9,1028.2 L1325.5,1030.1 L1326.2,1032.0 L1326.9,1033.8 L1327.6,1035.7 L1328.2,1037.5 L1328.9,1039.3 L1329.6,1041.1 L1330.2,1042.9 L1330.9,1044.6 L1331.6,1046.4 L1332.3,1048.1 L1332.9,1049.8 L1333.6,1051.6 L1334.3,1053.2 L1334.9,1054.9 L1335.6,1056.6 L1336.3,1058.2 L1336.9,1059.9 L1337.6,1061.5 L1338.3,1063.1 L1339.0,1064.7 L1339.6,1066.2 L1340.3,1067.8 L1341.0,1069.3 L1341.6,1070.8 L1342.3,1072.3 L1343.0,1073.8 L1343.7,1075.3 L1344.3,1076.7 L1345.0,1078.2 L1345.7,1079.6 L1346.3,1081.0 L1347.0,1082.4 L1347.7,1083.8 L1348.3,1085.2 L1349.0,1086.5 L1349.7,1087.8 L1350.4,1089.1 L1351.0,1090.4 L1351.7,1091.7 L1352.4,1093.0 L1353.0,1094.2 L1353.7,1095.5 L1354.4,1096.7 L1355.1,1097.9 L1355.7,1099.1 L1356.4,1100.3 L1357.1,1101.4 L1357.7,1102.6 L1358.4,1103.7 L1359.1,1104.8 L1359.7,1105.9 L1360.4,1107.0 L1361.1,1108.0 L1361.8,1109.1 L1362.4,1110.1 L1363.1,1111.1 L1363.8,1112.2 L1364.4,1113.1 L1365.1,1114.1 L1365.8,1115.1 L1366.4,1116.0 L1367.1,1117.0 L1367.8,1117.9 L1368.5,1118.8 L1369.1,1119.7 L1369.8,1120.5 L1370.5,1121.4 L1371.1,1122.3 L1371.8,1123.1 L1372.5,1123.9 L1373.2,1124.7 L1373.8,1125.5 L1374.5,1126.3 L1375.2,1127.1 L1375.8,1127.8 L1376.5,1128.6 L1377.2,1129.3 L1377.8,1130.0 L1378.5,1130.8 L1379.2,1131.5 L1379.9,1132.1 L1380.5,1132.8 L1381.2,1133.5 L1381.9,1134.1 L1382.5,1134.8 L1383.2,1135.4 L1383.9,1136.0 L1384.6,1136.6 L1385.2,1137.2 L1385.9,1137.8 L1386.6,1138.4 L1387.2,1139.0 L1387.9,1139.5 L1388.6,1140.1 L1389.2,1140.6 L1389.9,1141.1 L1390.6,1141.6 L1391.3,1142.2 L1391.9,1142.7 L1392.6,1143.1 L1393.3,1143.6 L1393.9,1144.1 L1394.6,1144.6 L1395.3,1145.0 L1396.0,1145.5 L1396.6,1145.9 L1397.3,1146.3 L1398.0,1146.8 L1398.6,1147.2 L1399.3,1147.6 L1400.0,1148.0 L1400.6,1148.4 L1401.3,1148.7 L1402.0,1149.1 L1402.7,1149.5 L1403.3,1149.9 L1404.0,1150.2 L1404.7,1150.6 L1405.3,1150.9 L1406.0,1151.2 L1406.7,1151.6 L1407.3,1151.9 L1408.0,1152.2 L1408.7,1152.5 L1409.4,1152.8 L1410.0,1153.1 L1410.7,1153.4 L1411.4,1153.7 L1412.0,1153.9 L1412.7,1154.2 L1413.4,1154.5 L1414.1,1154.8 L1414.7,1155.0 L1415.4,1155.3 L1416.1,1155.5 L1416.7,1155.8 L1417.4,1156.0 L1418.1,1156.2 L1418.7,1156.5 L1419.4,1156.7 L1420.1,1156.9 L1420.8,1157.1 L1421.4,1157.3 L1422.1,1157.5 L1422.8,1157.8 L1423.4,1158.0 L1424.1,1158.2 L1424.8,1158.4 L1425.5,1158.5 L1426.1,1158.7 L1426.8,1158.9 L1427.5,1159.1 L1428.1,1159.3 L1428.8,1159.5 L1429.5,1159.7 L1430.1,1159.8 L1430.8,1160.0 L1431.5,1160.2 L1432.2,1160.3 L1432.8,1160.5 L1433.5,1160.7 L1434.2,1160.8 L1434.8,1161.0 L1435.5,1161.1 L1436.2,1161.3 L1436.9,1161.4 L1437.5,1161.6 L1438.2,1161.7 L1438.9,1161.8 L1439.5,1162.0 L1440.2,1162.1 L1440.9,1162.2 L1441.5,1162.3 L1442.2,1162.4 L1442.9,1162.5 L1443.6,1162.6 L1444.2,1162.7 L1444.9,1162.8 L1445.6,1162.9 L1446.2,1163.0 L1446.9,1163.1 L1447.6,1163.2 L1448.3,1163.3 L1448.9,1163.4 L1449.6,1163.4 L1450.3,1163.5 L1450.9,1163.6 L1451.6,1163.6 L1452.3,1163.7 L1452.9,1163.8 L1453.6,1163.8 L1454.3,1163.9 L1455.0,1163.9 L1455.6,1164.0 L1456.3,1164.0 L1457.0,1164.1 L1457.6,1164.1 L1458.3,1164.2 L1459.0,1164.2 L1459.6,1164.3 L1460.3,1164.3 L1461.0,1164.3 L1461.7,1164.4 L1462.3,1164.4 L1463.0,1164.4 L1463.7,1164.5 L1464.3,1164.5 L1465.0,1164.5 L1465.7,1164.5 L1466.4,1164.5 L1467.0,1164.5 L1467.7,1164.5 L1468.4,1164.5 L1469.0,1164.5 L1469.7,1164.5 L1470.4,1164.5 L1471.0,1164.5 L1471.7,1164.5 L1472.4,1164.5 L1473.1,1164.5 L1473.7,1164.5 L1474.4,1164.5 L1475.1,1164.5 L1475.7,1164.5 L1476.4,1164.5 L1477.1,1164.5 L1477.8,1164.5 L1478.4,1164.5 L1479.1,1164.5 L1479.8,1164.5 L1480.4,1164.5 L1481.1,1164.5 L1481.8,1164.5 L1482.4,1164.5 L1483.1,1164.5 L1483.8,1164.5 L1484.5,1164.5 L1485.1,1164.5 L1485.8,1164.5 L1486.5,1164.5 L1487.1,1164.5 L1487.8,1164.5 L1488.5,1164.5 L1489.2,1164.5 L1489.8,1164.5 L1490.5,1164.5 L1491.2,1164.5 L1491.8,1164.5 L1492.5,1164.5 L1493.2,1164.5 L1493.8,1164.5 L1494.5,1164.5 L1495.2,1164.5 L1495.9,1164.5 L1496.5,1164.5 L1497.2,1164.5 L1497.9,1164.5 L1498.5,1164.5 L1499.2,1164.5 L1499.9,1164.5 L1500.5,1164.5 L1501.2,1164.5 L1501.9,1164.5 L1502.6,1164.5 L1503.2,1164.5 L1503.9,1164.5 L1504.6,1164.5 L1505.2,1164.5 L1505.9,1164.5 L1506.6,1164.5 L1507.3,1164.5 L1507.9,1164.5 L1508.6,1164.5 L1509.3,1164.5 L1509.9,1164.5 L1510.6,1164.5 L1511.3,1164.5 L1511.9,1164.5 L1512.6,1164.5 L1513.3,1164.5 L1514.0,1164.5 L1514.6,1164.5 L1515.3,1164.5 L1516.0,1164.5 L1516.6,1164.5 L1517.3,1164.5 L1518.0,1164.5 L1518.7,1164.5 L1519.3,1164.5 L1520.0,1164.5 L1520.7,1164.5 L1521.3,1164.5 L1522.0,1164.5 L1522.7,1164.5 L1523.3,1164.5 L1524.0,1164.5 L1524.7,1164.5 L1525.4,1164.5 L1526.0,1164.5 L1526.7,1164.5 L1527.4,1164.5 L1528.0,1164.5 L1528.7,1164.5 L1529.4,1164.5 L1530.1,1164.5 L1530.7,1164.5 L1531.4,1164.5 L1532.1,1164.5 L1532.7,1164.5 L1533.4,1164.5 L1534.1,1164.5 L1534.7,1164.5 L1535.4,1164.5 L1536.1,1164.5 L1536.8,1164.5 L1537.4,1164.5 L1538.1,1164.5 L1538.8,1164.5 L1539.4,1164.5 L1540.1,1164.5 L1540.8,1164.5 L1541.5,1164.5 L1542.1,1164.5 L1542.8,1164.5 L1543.5,1164.5 L1544.1,1164.5 L1544.8,1164.5 L1545.5,1164.5 L1546.1,1164.5 L1546.8,1164.5 L1547.5,1164.5 L1548.2,1164.5 L1548.8,1164.5 L1549.5,1164.5 L1550.2,1164.5 L1550.8,1164.5 L1551.5,1164.5 L1552.2,1164.5 L1552.8,1164.5 L1553.5,1164.5 L1554.2,1164.5 L1554.9,1164.5 L1555.5,1164.5 L1556.2,1164.5 L1556.9,1164.5 L1557.5,1164.5 L1558.2,1164.5 L1558.9,1164.5 L1559.6,1164.5 L1560.2,1164.5 L1560.9,1164.5 L1561.6,1164.5 L1562.2,1164.5 L1562.9,1164.5 L1563.6,1164.5 L1564.2,1164.5 L1564.9,1164.5 L1565.6,1164.5 L1566.3,1164.5 L1566.9,1164.5 L1567.6,1164.5 L1568.3,1164.5 L1568.9,1164.5 L1569.6,1164.5 L1570.3,1164.5 L1571.0,1164.5 L1571.6,1164.5 L1572.3,1164.5 L1573.0,1164.5 L1573.6,1164.5 L1574.3,1164.5 L1575.0,1164.5 L1575.6,1164.5 L1576.3,1164.5 L1577.0,1164.5 L1577.7,1164.5 L1578.3,1164.5 L1579.0,1164.5 L1579.7,1164.5 L1580.3,1164.5 L1581.0,1164.5 L1581.7,1164.5 L1582.4,1164.5 L1583.0,1164.5 L1583.7,1164.5 L1584.4,1164.5 L1585.0,1164.5 L1585.7,1164.5 L1586.4,1164.5 L1587.0,1164.5 L1587.7,1164.5 L1588.4,1164.5 L1589.1,1164.5 L1589.7,1164.5 L1590.4,1164.5 L1591.1,1164.5 L1591.7,1164.5 L1592.4,1164.5 L1593.1,1164.5 L1593.7,1164.5 L1594.4,1164.5 L1595.1,1164.5 L1595.8,1164.5 L1596.4,1164.5 L1597.1,1164.5 L1597.8,1164.5 L1598.4,1164.5 L1599.1,1164.5 L1599.8,1164.5 L1600.5,1164.5 L1601.1,1164.5 L1601.8,1164.5 L1602.5,1164.5 L1603.1,1164.5 L1603.8,1164.5 L1604.5,1164.5 L1605.1,1164.5 L1605.8,1164.5 L1606.5,1164.5 L1607.2,1164.5 L1607.8,1164.5 L1608.5,1164.5" stroke="#0000ff" stroke-width="3" fill="none" stroke-linejoin="round" shape-rendering="crispEdges"/><path d="M267.5,1164.5 L268.2,1164.5 L268.8,1164.5 L269.5,1164.5 L270.2,1164.5 L270.9,1164.5 L271.5,1164.5 L272.2,1164.5 L272.9,1164.5 L273.5,1164.5 L274.2,1164.5 L274.9,1164.5 L275.5,1164.5 L276.2,1164.5 L276.9,1164.5 L277.6,1164.5 L278.2,1164.5 L278.9,1164.5 L279.6,1164.5 L280.2,1164.5 L280.9,1164.5 L281.6,1164.5 L282.3,1164.5 L282.9,1164.5 L283.6,1164.5 L284.3,1164.5 L284.9,1164.5 L285.6,1164.5 L286.3,1164.5 L286.9,1164.5 L287.6,1164.5 L288.3,1164.5 L289.0,1164.5 L289.6,1164.5 L290.3,1164.5 L291.0,1164.5 L291.6,1164.5 L292.3,1164.5 L293.0,1164.5 L293.6,1164.5 L294.3,1164.5 L295.0,1164.5 L295.7,1164.5 L296.3,1164.5 L297.0,1164.5 L297.7,1164.5 L298.3,1164.5 L299.0,1164.5 L299.7,1164.5 L300.4,1164.5 L301.0,1164.5 L301.7,1164.5 L302.4,1164.5 L303.0,1164.5 L303.7,1164.5 L304.4,1164.5 L305.0,1164.5 L305.7,1164.5 L306.4,1164.5 L307.1,1164.5 L307.7,1164.5 L308.4,1164.5 L309.1,1164.5 L309.7,1164.5 L310.4,1164.5 L311.1,1164.5 L311.8,1164.5 L312.4,1164.5 L313.1,1164.5 L313.8,1164.5 L314.4,1164.5 L315.1,1164.5 L315.8,1164.5 L316.4,1164.5 L317.1,1164.5 L317.8,1164.5 L318.5,1164.5 L319.1,1164.5 L319.8,1164.5 L320.5,1164.5 L321.1,1164.5 L321.8,1164.5 L322.5,1164.5 L323.2,1164.5 L323.8,1164.5 L324.5,1164.5 L325.2,1164.5 L325.8,1164.5 L326.5,1164.5 L327.2,1164.5 L327.8,1164.5 L328.5,1164.5 L329.2,1164.5 L329.9,1164.5 L330.5,1164.5 L331.2,1164.5 L331.9,1164.5 L332.5,1164.5 L333.2,1164.5 L333.9,1164.5 L334.6,1164.5 L335.2,1164.5 L335.9,1164.5 L336.6,1164.5 L337.2,1164.5 L337.9,1164.5 L338.6,1164.5 L339.2,1164.5 L339.9,1164.5 L340.6,1164.5 L341.3,1164.5 L341.9,1164.5 L342.6,1164.5 L343.3,1164.5 L343.9,1164.5 L344.6,1164.5 L345.3,1164.5 L345.9,1164.5 L346.6,1164.5 L347.3,1164.5 L348.0,1164.5 L348.6,1164.5 L349.3,1164.5 L350.0,1164.5 L350.6,1164.5 L351.3,1164.5 L352.0,1164.5 L352.7,1164.5 L353.3,1164.5 L354.0,1164.5 L354.7,1164.5 L355.3,1164.5 L356.0,1164.5 L356.7,1164.5 L357.3,1164.5 L358.0,1164.5 L358.7,1164.5 L359.4,1164.5 L360.0,1164.5 L360.7,1164.5 L361.4,1164.5 L362.0,1164.5 L362.7,1164.5 L363.4,1164.5 L364.1,1164.5 L364.7,1164.5 L365.4,1164.5 L366.1,1164.5 L366.7,1164.5 L367.4,1164.5 L368.1,1164.5 L368.7,1164.5 L369.4,1164.5 L370.1,1164.5 L370.8,1164.5 L371.4,1164.5 L372.1,1164.5 L372.8,1164.5 L373.4,1164.5 L374.1,1164.5 L374.8,1164.5 L375.5,1164.5 L376.1,1164.5 L376.8,1164.5 L377.5,1164.5 L378.1,1164.5 L378.8,1164.5 L379.5,1164.5 L380.1,1164.5 L380.8,1164.5 L381.5,1164.5 L382.2,1164.5 L382.8,1164.5 L383.5,1164.5 L384.2,1164.5 L384.8,1164.5 L385.5,1164.5 L386.2,1164.5 L386.8,1164.5 L387.5,1164.5 L388.2,1164.5 L388.9,1164.5 L389.5,1164.5 L390.2,1164.5 L390.9,1164.5 L391.5,1164.5 L392.2,1164.5 L392.9,1164.5 L393.6,1164.5 L394.2,1164.5 L394.9,1164.5 L395.6,1164.5 L396.2,1164.5 L396.9,1164.5 L397.6,1164.5 L398.2,1164.5 L398.9,1164.5 L399.6,1164.5 L400.3,1164.5 L400.9,1164.5 L401.6,1164.5 L402.3,1164.5 L402.9,1164.5 L403.6,1164.5 L404.3,1164.5 L405.0,1164.5 L405.6,1164.5 L406.3,1164.5 L407.0,1164.5 L407.6,1164.5 L408.3,1164.5 L409.0,1164.5 L409.6,1164.5 L410.3,1164.4 L411.0,1164.4 L411.7,1164.3 L412.3,1164.3 L413.0,1164.3 L413.7,1164.2 L414.3,1164.2 L415.0,1164.1 L415.7,1164.1 L416.4,1164.0 L417.0,1164.0 L417.7,1163.9 L418.4,1163.9 L419.0,1163.8 L419.7,1163.8 L420.4,1163.7 L421.0,1163.6 L421.7,1163.6 L422.4,1163.5 L423.1,1163.4 L423.7,1163.4 L424.4,1163.3 L425.1,1163.2 L425.7,1163.2 L426.4,1163.1 L427.1,1163.0 L427.7,1162.9 L428.4,1162.8 L429.1,1162.7 L429.8,1162.6 L430.4,1162.5 L431.1,1162.4 L431.8,1162.3 L432.4,1162.2 L433.1,1162.1 L433.8,1162.0 L434.5,1161.9 L435.1,1161.8 L435.8,1161.6 L436.5,1161.5 L437.1,1161.4 L437.8,1161.3 L438.5,1161.1 L439.1,1161.0 L439.8,1160.8 L440.5,1160.7 L441.2,1160.5 L441.8,1160.4 L442.5,1160.2 L443.2,1160.1 L443.8,1159.9 L444.5,1159.7 L445.2,1159.6 L445.9,1159.4 L446.5,1159.2 L447.2,1159.1 L447.9,1158.9 L448.5,1158.7 L449.2,1158.5 L449.9,1158.3 L450.5,1158.2 L451.2,1158.0 L451.9,1157.8 L452.6,1157.6 L453.2,1157.4 L453.9,1157.2 L454.6,1157.0 L455.2,1156.8 L455.9,1156.6 L456.6,1156.4 L457.3,1156.2 L457.9,1156.0 L458.6,1155.7 L459.3,1155.5 L459.9,1155.3 L460.6,1155.0 L461.3,1154.8 L461.9,1154.6 L462.6,1154.3 L463.3,1154.1 L464.0,1153.8 L464.6,1153.6 L465.3,1153.3 L466.0,1153.0 L466.6,1152.8 L467.3,1152.5 L468.0,1152.2 L468.6,1151.9 L469.3,1151.6 L470.0,1151.3 L470.7,1151.0 L471.3,1150.7 L472.0,1150.4 L472.7,1150.0 L473.3,1149.7 L474.0,1149.4 L474.7,1149.0 L475.4,1148.7 L476.0,1148.3 L476.7,1148.0 L477.4,1147.6 L478.0,1147.2 L478.7,1146.8 L479.4,1146.4 L480.0,1146.0 L480.7,1145.6 L481.4,1145.2 L482.1,1144.8 L482.7,1144.4 L483.4,1143.9 L484.1,1143.5 L484.7,1143.0 L485.4,1142.6 L486.1,1142.1 L486.8,1141.6 L487.4,1141.1 L488.1,1140.6 L488.8,1140.1 L489.4,1139.6 L490.1,1139.1 L490.8,1138.6 L491.4,1138.0 L492.1,1137.5 L492.8,1136.9 L493.5,1136.3 L494.1,1135.8 L494.8,1135.2 L495.5,1134.6 L496.1,1134.0 L496.8,1133.4 L497.5,1132.8 L498.2,1132.1 L498.8,1131.5 L499.5,1130.8 L500.2,1130.2 L500.8,1129.5 L501.5,1128.8 L502.2,1128.1 L502.8,1127.4 L503.5,1126.7 L504.2,1126.0 L504.9,1125.3 L505.5,1124.5 L506.2,1123.8 L506.9,1123.0 L507.5,1122.2 L508.2,1121.4 L508.9,1120.6 L509.6,1119.8 L510.2,1119.0 L510.9,1118.2 L511.6,1117.3 L512.2,1116.5 L512.9,1115.6 L513.6,1114.7 L514.2,1113.8 L514.9,1112.9 L515.6,1112.0 L516.3,1111.1 L516.9,1110.2 L517.6,1109.2 L518.3,1108.3 L518.9,1107.3 L519.6,1106.3 L520.3,1105.3 L520.9,1104.3 L521.6,1103.3 L522.3,1102.3 L523.0,1101.2 L523.6,1100.2 L524.3,1099.1 L525.0,1098.0 L525.6,1096.9 L526.3,1095.8 L527.0,1094.7 L527.7,1093.5 L528.3,1092.4 L529.0,1091.2 L529.7,1090.1 L530.3,1088.9 L531.0,1087.7 L531.7,1086.4 L532.3,1085.2 L533.0,1084.0 L533.7,1082.7 L534.4,1081.4 L535.0,1080.1 L535.7,1078.8 L536.4,1077.5 L537.0,1076.1 L537.7,1074.8 L538.4,1073.4 L539.1,1072.0 L539.7,1070.6 L540.4,1069.2 L541.1,1067.7 L541.7,1066.3 L542.4,1064.8 L543.1,1063.3 L543.7,1061.8 L544.4,1060.3 L545.1,1058.7 L545.8,1057.1 L546.4,1055.6 L547.1,1053.9 L547.8,1052.3 L548.4,1050.7 L549.1,1049.0 L549.8,1047.3 L550.5,1045.6 L551.1,1043.9 L551.8,1042.2 L552.5,1040.4 L553.1,1038.6 L553.8,1036.8 L554.5,1035.0 L555.1,1033.2 L555.8,1031.3 L556.5,1029.4 L557.2,1027.5 L557.8,1025.6 L558.5,1023.7 L559.2,1021.7 L559.8,1019.7 L560.5,1017.7 L561.2,1015.7 L561.8,1013.7 L562.5,1011.6 L563.2,1009.5 L563.9,1007.4 L564.5,1005.3 L565.2,1003.2 L565.9,1001.0 L566.5,998.9 L567.2,996.7 L567.9,994.5 L568.6,992.3 L569.2,990.1 L569.9,987.8 L570.6,985.6 L571.2,983.3 L571.9,981.1 L572.6,978.8 L573.2,976.5 L573.9,974.2 L574.6,971.9 L575.3,969.6 L575.9,967.3 L576.6,965.0 L577.3,962.7 L577.9,960.3 L578.6,958.0 L579.3,955.7 L580.0,953.4 L580.6,951.0 L581.3,948.7 L582.0,946.4 L582.6,944.0 L583.3,941.7 L584.0,939.4 L584.6,937.0 L585.3,934.7 L586.0,932.4 L586.7,930.1 L587.3,927.8 L588.0,925.5 L588.7,923.2 L589.3,920.9 L590.0,918.6 L590.7,916.4 L591.4,914.1 L592.0,911.8 L592.7,909.6 L593.4,907.3 L594.0,905.1 L594.7,902.9 L595.4,900.6 L596.0,898.4 L596.7,896.1 L597.4,893.9 L598.1,891.7 L598.7,889.4 L599.4,887.2 L600.1,885.0 L600.7,882.7 L601.4,880.5 L602.1,878.2 L602.8,876.0 L603.4,873.7 L604.1,871.5 L604.8,869.2 L605.4,866.9 L606.1,864.6 L606.8,862.3 L607.4,860.0 L608.1,857.7 L608.8,855.4 L609.5,853.1 L610.1,850.7 L610.8,848.4 L611.5,846.0 L612.1,843.6 L612.8,841.2 L613.5,838.8 L614.1,836.4 L614.8,834.0 L615.5,831.5 L616.2,829.1 L616.8,826.6 L617.5,824.1 L618.2,821.6 L618.8,819.0 L619.5,816.5 L620.2,813.9 L620.9,811.3 L621.5,808.7 L622.2,806.1 L622.9,803.5 L623.5,800.9 L624.2,798.3 L624.9,795.6 L625.5,792.9 L626.2,790.3 L626.9,787.6 L627.6,784.9 L628.2,782.2 L628.9,779.5 L629.6,776.8 L630.2,774.0 L630.9,771.3 L631.6,768.5 L632.3,765.8 L632.9,763.0 L633.6,760.3 L634.3,757.5 L634.9,754.7 L635.6,752.0 L636.3,749.2 L636.9,746.4 L637.6,743.6 L638.3,740.8 L639.0,738.0 L639.6,735.2 L640.3,732.5 L641.0,729.7 L641.6,726.9 L642.3,724.1 L643.0,721.4 L643.7,718.6 L644.3,715.9 L645.0,713.2 L645.7,710.5 L646.3,707.8 L647.0,705.2 L647.7,702.5 L648.3,699.9 L649.0,697.3 L649.7,694.7 L650.4,692.2 L651.0,689.6 L651.7,687.1 L652.4,684.6 L653.0,682.1 L653.7,679.7 L654.4,677.2 L655.0,674.8 L655.7,672.4 L656.4,670.0 L657.1,667.6 L657.7,665.2 L658.4,662.9 L659.1,660.5 L659.7,658.2 L660.4,655.9 L661.1,653.6 L661.8,651.3 L662.4,649.1 L663.1,646.9 L663.8,644.6 L664.4,642.4 L665.1,640.2 L665.8,638.0 L666.4,635.9 L667.1,633.7 L667.8,631.6 L668.5,629.4 L669.1,627.3 L669.8,625.2 L670.5,623.1 L671.1,621.0 L671.8,619.0 L672.5,616.9 L673.2,614.9 L673.8,612.8 L674.5,610.8 L675.2,608.8 L675.8,606.8 L676.5,604.8 L677.2,602.8 L677.8,600.8 L678.5,598.9 L679.2,596.9 L679.9,594.9 L680.5,593.0 L681.2,591.1 L681.9,589.2 L682.5,587.2 L683.2,585.3 L683.9,583.4 L684.6,581.6 L685.2,579.7 L685.9,577.8 L686.6,576.0 L687.2,574.1 L687.9,572.3 L688.6,570.5 L689.2,568.6 L689.9,566.8 L690.6,565.0 L691.3,563.3 L691.9,561.5 L692.6,559.7 L693.3,558.0 L693.9,556.2 L694.6,554.5 L695.3,552.8 L695.9,551.1 L696.6,549.4 L697.3,547.7 L698.0,546.0 L698.6,544.3 L699.3,542.7 L700.0,541.0 L700.6,539.4 L701.3,537.8 L702.0,536.1 L702.7,534.5 L703.3,532.9 L704.0,531.4 L704.7,529.8 L705.3,528.2 L706.0,526.7 L706.7,525.1 L707.3,523.6 L708.0,522.1 L708.7,520.6 L709.4,519.1 L710.0,517.6 L710.7,516.1 L711.4,514.7 L712.0,513.2 L712.7,511.8 L713.4,510.3 L714.1,508.9 L714.7,507.5 L715.4,506.1 L716.1,504.7 L716.7,503.4 L717.4,502.0 L718.1,500.6 L718.7,499.3 L719.4,498.0 L720.1,496.6 L720.8,495.3 L721.4,494.0 L722.1,492.8 L722.8,491.5 L723.4,490.2 L724.1,489.0 L724.8,487.7 L725.5,486.5 L726.1,485.3 L726.8,484.0 L727.5,482.8 L728.1,481.7 L728.8,480.5 L729.5,479.3 L730.1,478.1 L730.8,477.0 L731.5,475.9 L732.2,474.7 L732.8,473.6 L733.5,472.5 L734.2,471.4 L734.8,470.3 L735.5,469.3 L736.2,468.2 L736.8,467.2 L737.5,466.1 L738.2,465.1 L738.9,464.1 L739.5,463.1 L740.2,462.1 L740.9,461.1 L741.5,460.1 L742.2,459.1 L742.9,458.2 L743.6,457.2 L744.2,456.3 L744.9,455.3 L745.6,454.4 L746.2,453.5 L746.9,452.6 L747.6,451.7 L748.2,450.8 L748.9,449.9 L749.6,449.1 L750.3,448.2 L750.9,447.3 L751.6,446.5 L752.3,445.7 L752.9,444.8 L753.6,444.0 L754.3,443.2 L755.0,442.4 L755.6,441.6 L756.3,440.8 L757.0,440.0 L757.6,439.2 L758.3,438.4 L759.0,437.6 L759.6,436.9 L760.3,436.1 L761.0,435.3 L761.7,434.6 L762.3,433.9 L763.0,433.1 L763.7,432.4 L764.3,431.7 L765.0,430.9 L765.7,430.2 L766.4,429.5 L767.0,428.8 L767.7,428.1 L768.4,427.4 L769.0,426.7 L769.7,426.0 L770.4,425.3 L771.0,424.6 L771.7,424.0 L772.4,423.3 L773.1,422.6 L773.7,422.0 L774.4,421.3 L775.1,420.7 L775.7,420.0 L776.4,419.4 L777.1,418.7 L777.8,418.1 L778.4,417.4 L779.1,416.8 L779.8,416.2 L780.4,415.6 L781.1,415.0 L781.8,414.3 L782.4,413.7 L783.1,413.1 L783.8,412.5 L784.5,411.9 L785.1,411.3 L785.8,410.7 L786.5,410.1 L787.1,409.6 L787.8,409.0 L788.5,408.4 L789.1,407.8 L789.8,407.3 L790.5,406.7 L791.2,406.1 L791.8,405.6 L792.5,405.0 L793.2,404.4 L793.8,403.9 L794.5,403.4 L795.2,402.8 L795.9,402.3 L796.5,401.7 L797.2,401.2 L797.9,400.6 L798.5,400.1 L799.2,399.6 L799.9,399.0 L800.5,398.5 L801.2,398.0 L801.9,397.4 L802.6,396.9 L803.2,396.3 L803.9,395.8 L804.6,395.3 L805.2,394.7 L805.9,394.2 L806.6,393.6 L807.3,393.1 L807.9,392.5 L808.6,392.0 L809.3,391.4 L809.9,390.9 L810.6,390.4 L811.3,389.8 L811.9,389.3 L812.6,388.7 L813.3,388.2 L814.0,387.7 L814.6,387.1 L815.3,386.6 L816.0,386.1 L816.6,385.5 L817.3,385.0 L818.0,384.5 L818.7,384.0 L819.3,383.5 L820.0,383.0 L820.7,382.5 L821.3,382.0 L822.0,381.5 L822.7,381.0 L823.3,380.6 L824.0,380.1 L824.7,379.6 L825.4,379.2 L826.0,378.8 L826.7,378.3 L827.4,377.9 L828.0,377.5 L828.7,377.1 L829.4,376.7 L830.0,376.3 L830.7,375.9 L831.4,375.5 L832.1,375.2 L832.7,374.8 L833.4,374.5 L834.1,374.1 L834.7,373.8 L835.4,373.5 L836.1,373.1 L836.8,372.8 L837.4,372.5 L838.1,372.1 L838.8,371.8 L839.4,371.5 L840.1,371.1 L840.8,370.8 L841.4,370.5 L842.1,370.1 L842.8,369.8 L843.5,369.4 L844.1,369.0 L844.8,368.7 L845.5,368.3 L846.1,367.9 L846.8,367.5 L847.5,367.1 L848.2,366.6 L848.8,366.2 L849.5,365.8 L850.2,365.3 L850.8,364.8 L851.5,364.4 L852.2,363.9 L852.8,363.4 L853.5,362.9 L854.2,362.4 L854.9,361.9 L855.5,361.5 L856.2,361.0 L856.9,360.5 L857.5,360.1 L858.2,359.6 L858.9,359.2 L859.6,358.7 L860.2,358.3 L860.9,357.9 L861.6,357.5 L862.2,357.2 L862.9,356.8 L863.6,356.5 L864.2,356.1 L864.9,355.8 L865.6,355.5 L866.3,355.2 L866.9,354.9 L867.6,354.6 L868.3,354.3 L868.9,354.1 L869.6,353.8 L870.3,353.5 L870.9,353.3 L871.6,353.0 L872.3,352.8 L873.0,352.6 L873.6,352.3 L874.3,352.1 L875.0,351.9 L875.6,351.6 L876.3,351.4 L877.0,351.2 L877.7,350.9 L878.3,350.7 L879.0,350.5 L879.7,350.2 L880.3,350.0 L881.0,349.7 L881.7,349.5 L882.3,349.3 L883.0,349.0 L883.7,348.8 L884.4,348.5 L885.0,348.3 L885.7,348.1 L886.4,347.8 L887.0,347.6 L887.7,347.3 L888.4,347.1 L889.1,346.8 L889.7,346.6 L890.4,346.4 L891.1,346.1 L891.7,345.9 L892.4,345.7 L893.1,345.5 L893.7,345.2 L894.4,345.0 L895.1,344.8 L895.8,344.6 L896.4,344.4 L897.1,344.2 L897.8,344.0 L898.4,343.8 L899.1,343.6 L899.8,343.4 L900.5,343.2 L901.1,343.0 L901.8,342.8 L902.5,342.6 L903.1,342.5 L903.8,342.3 L904.5,342.2 L905.1,342.0 L905.8,341.8 L906.5,341.7 L907.2,341.6 L907.8,341.4 L908.5,341.3 L909.2,341.2 L909.8,341.1 L910.5,340.9 L911.2,340.8 L911.9,340.7 L912.5,340.6 L913.2,340.5 L913.9,340.4 L914.5,340.3 L915.2,340.2 L915.9,340.2 L916.5,340.1 L917.2,340.0 L917.9,339.9 L918.6,339.9 L919.2,339.8 L919.9,339.8 L920.6,339.7 L921.2,339.7 L921.9,339.6 L922.6,339.6 L923.2,339.6 L923.9,339.5 L924.6,339.5 L925.3,339.5 L925.9,339.5 L926.6,339.5 L927.3,339.5 L927.9,339.4 L928.6,339.4 L929.3,339.5 L930.0,339.5 L930.6,339.5 L931.3,339.5 L932.0,339.5 L932.6,339.5 L933.3,339.6 L934.0,339.6 L934.6,339.6 L935.3,339.7 L936.0,339.7 L936.7,339.8 L937.3,339.8 L938.0,339.9 L938.7,339.9 L939.3,340.0 L940.0,340.1 L940.7,340.1 L941.4,340.2 L942.0,340.3 L942.7,340.4 L943.4,340.5 L944.0,340.5 L944.7,340.6 L945.4,340.7 L946.0,340.8 L946.7,340.9 L947.4,341.0 L948.1,341.2 L948.7,341.3 L949.4,341.4 L950.1,341.5 L950.7,341.6 L951.4,341.8 L952.1,341.9 L952.8,342.0 L953.4,342.2 L954.1,342.3 L954.8,342.4 L955.4,342.6 L956.1,342.7 L956.8,342.9 L957.4,343.0 L958.1,343.2 L958.8,343.3 L959.5,343.5 L960.1,343.7 L960.8,343.8 L961.5,344.0 L962.1,344.2 L962.8,344.4 L963.5,344.5 L964.1,344.7 L964.8,344.9 L965.5,345.1 L966.2,345.3 L966.8,345.5 L967.5,345.7 L968.2,345.9 L968.8,346.1 L969.5,346.3 L970.2,346.5 L970.9,346.7 L971.5,346.9 L972.2,347.1 L972.9,347.3 L973.5,347.5 L974.2,347.7 L974.9,348.0 L975.5,348.2 L976.2,348.4 L976.9,348.6 L977.6,348.9 L978.2,349.1 L978.9,349.3 L979.6,349.5 L980.2,349.8 L980.9,350.0 L981.6,350.2 L982.3,350.5 L982.9,350.7 L983.6,351.0 L984.3,351.2 L984.9,351.5 L985.6,351.7 L986.3,351.9 L986.9,352.2 L987.6,352.4 L988.3,352.7 L989.0,352.9 L989.6,353.2 L990.3,353.4 L991.0,353.7 L991.6,354.0 L992.3,354.2 L993.0,354.5 L993.7,354.7 L994.3,355.0 L995.0,355.3 L995.7,355.5 L996.3,355.8 L997.0,356.1 L997.7,356.3 L998.3,356.6 L999.0,356.9 L999.7,357.2 L1000.4,357.4 L1001.0,357.7 L1001.7,358.0 L1002.4,358.3 L1003.0,358.5 L1003.7,358.8 L1004.4,359.1 L1005.0,359.4 L1005.7,359.7 L1006.4,360.0 L1007.1,360.3 L1007.7,360.6 L1008.4,360.8 L1009.1,361.1 L1009.7,361.4 L1010.4,361.7 L1011.1,362.0 L1011.8,362.3 L1012.4,362.6 L1013.1,362.9 L1013.8,363.2 L1014.4,363.6 L1015.1,363.9 L1015.8,364.2 L1016.4,364.5 L1017.1,364.8 L1017.8,365.1 L1018.5,365.4 L1019.1,365.7 L1019.8,366.1 L1020.5,366.4 L1021.1,366.7 L1021.8,367.0 L1022.5,367.4 L1023.2,367.7 L1023.8,368.0 L1024.5,368.3 L1025.2,368.7 L1025.8,369.0 L1026.5,369.3 L1027.2,369.7 L1027.8,370.0 L1028.5,370.4 L1029.2,370.7 L1029.9,371.0 L1030.5,371.4 L1031.2,371.7 L1031.9,372.1 L1032.5,372.4 L1033.2,372.8 L1033.9,373.1 L1034.6,373.5 L1035.2,373.9 L1035.9,374.2 L1036.6,374.6 L1037.2,375.0 L1037.9,375.3 L1038.6,375.7 L1039.2,376.1 L1039.9,376.4 L1040.6,376.8 L1041.3,377.2 L1041.9,377.6 L1042.6,377.9 L1043.3,378.3 L1043.9,378.7 L1044.6,379.1 L1045.3,379.5 L1046.0,379.9 L1046.6,380.3 L1047.3,380.7 L1048.0,381.1 L1048.6,381.5 L1049.3,381.9 L1050.0,382.3 L1050.6,382.7 L1051.3,383.1 L1052.0,383.5 L1052.7,383.9 L1053.3,384.3 L1054.0,384.7 L1054.7,385.2 L1055.3,385.6 L1056.0,386.0 L1056.7,386.5 L1057.3,386.9 L1058.0,387.3 L1058.7,387.8 L1059.4,388.2 L1060.0,388.6 L1060.7,389.1 L1061.4,389.5 L1062.0,390.0 L1062.7,390.4 L1063.4,390.9 L1064.1,391.4 L1064.7,391.8 L1065.4,392.3 L1066.1,392.8 L1066.7,393.2 L1067.4,393.7 L1068.1,394.2 L1068.7,394.7 L1069.4,395.2 L1070.1,395.7 L1070.8,396.2 L1071.4,396.7 L1072.1,397.2 L1072.8,397.7 L1073.4,398.2 L1074.1,398.7 L1074.8,399.2 L1075.5,399.7 L1076.1,400.2 L1076.8,400.8 L1077.5,401.3 L1078.1,401.8 L1078.8,402.4 L1079.5,402.9 L1080.1,403.5 L1080.8,404.0 L1081.5,404.6 L1082.2,405.1 L1082.8,405.7 L1083.5,406.3 L1084.2,406.8 L1084.8,407.4 L1085.5,408.0 L1086.2,408.6 L1086.9,409.2 L1087.5,409.7 L1088.2,410.3 L1088.9,410.9 L1089.5,411.5 L1090.2,412.1 L1090.9,412.8 L1091.5,413.4 L1092.2,414.0 L1092.9,414.6 L1093.6,415.2 L1094.2,415.9 L1094.9,416.5 L1095.6,417.1 L1096.2,417.8 L1096.9,418.4 L1097.6,419.1 L1098.2,419.7 L1098.9,420.4 L1099.6,421.1 L1100.3,421.7 L1100.9,422.4 L1101.6,423.1 L1102.3,423.8 L1102.9,424.4 L1103.6,425.1 L1104.3,425.8 L1105.0,426.5 L1105.6,427.2 L1106.3,427.9 L1107.0,428.7 L1107.6,429.4 L1108.3,430.1 L1109.0,430.8 L1109.6,431.5 L1110.3,432.3 L1111.0,433.0 L1111.7,433.8 L1112.3,434.5 L1113.0,435.3 L1113.7,436.0 L1114.3,436.8 L1115.0,437.6 L1115.7,438.3 L1116.4,439.1 L1117.0,439.9 L1117.7,440.7 L1118.4,441.5 L1119.0,442.3 L1119.7,443.1 L1120.4,443.9 L1121.0,444.7 L1121.7,445.5 L1122.4,446.4 L1123.1,447.2 L1123.7,448.0 L1124.4,448.9 L1125.1,449.7 L1125.7,450.6 L1126.4,451.4 L1127.1,452.3 L1127.8,453.2 L1128.4,454.0 L1129.1,454.9 L1129.8,455.8 L1130.4,456.7 L1131.1,457.6 L1131.8,458.5 L1132.4,459.4 L1133.1,460.3 L1133.8,461.3 L1134.5,462.2 L1135.1,463.1 L1135.8,464.1 L1136.5,465.0 L1137.1,466.0 L1137.8,466.9 L1138.5,467.9 L1139.2,468.9 L1139.8,469.8 L1140.5,470.8 L1141.2,471.8 L1141.8,472.8 L1142.5,473.8 L1143.2,474.9 L1143.8,475.9 L1144.5,476.9 L1145.2,477.9 L1145.9,479.0 L1146.5,480.0 L1147.2,481.1 L1147.9,482.1 L1148.5,483.2 L1149.2,484.3 L1149.9,485.4 L1150.5,486.5 L1151.2,487.6 L1151.9,488.7 L1152.6,489.8 L1153.2,490.9 L1153.9,492.0 L1154.6,493.2 L1155.2,494.3 L1155.9,495.5 L1156.6,496.6 L1157.3,497.8 L1157.9,499.0 L1158.6,500.2 L1159.3,501.4 L1159.9,502.6 L1160.6,503.8 L1161.3,505.0 L1161.9,506.2 L1162.6,507.5 L1163.3,508.7 L1164.0,510.0 L1164.6,511.2 L1165.3,512.5 L1166.0,513.8 L1166.6,515.1 L1167.3,516.4 L1168.0,517.7 L1168.7,519.0 L1169.3,520.3 L1170.0,521.6 L1170.7,523.0 L1171.3,524.3 L1172.0,525.7 L1172.7,527.0 L1173.3,528.4 L1174.0,529.8 L1174.7,531.2 L1175.4,532.6 L1176.0,534.0 L1176.7,535.4 L1177.4,536.9 L1178.0,538.3 L1178.7,539.8 L1179.4,541.2 L1180.1,542.7 L1180.7,544.2 L1181.4,545.7 L1182.1,547.2 L1182.7,548.8 L1183.4,550.3 L1184.1,551.9 L1184.7,553.5 L1185.4,555.1 L1186.1,556.7 L1186.8,558.3 L1187.4,560.0 L1188.1,561.7 L1188.8,563.4 L1189.4,565.1 L1190.1,566.8 L1190.8,568.6 L1191.4,570.3 L1192.1,572.1 L1192.8,573.9 L1193.5,575.7 L1194.1,577.5 L1194.8,579.3 L1195.5,581.2 L1196.1,583.0 L1196.8,584.9 L1197.5,586.7 L1198.2,588.6 L1198.8,590.5 L1199.5,592.4 L1200.2,594.3 L1200.8,596.2 L1201.5,598.1 L1202.2,600.0 L1202.8,601.9 L1203.5,603.8 L1204.2,605.8 L1204.9,607.7 L1205.5,609.7 L1206.2,611.6 L1206.9,613.6 L1207.5,615.6 L1208.2,617.5 L1208.9,619.5 L1209.6,621.5 L1210.2,623.5 L1210.9,625.6 L1211.6,627.6 L1212.2,629.6 L1212.9,631.7 L1213.6,633.7 L1214.2,635.8 L1214.9,637.9 L1215.6,639.9 L1216.3,642.0 L1216.9,644.1 L1217.6,646.3 L1218.3,648.4 L1218.9,650.5 L1219.6,652.7 L1220.3,654.8 L1221.0,657.0 L1221.6,659.1 L1222.3,661.3 L1223.0,663.5 L1223.6,665.7 L1224.3,667.9 L1225.0,670.1 L1225.6,672.4 L1226.3,674.6 L1227.0,676.9 L1227.7,679.1 L1228.3,681.4 L1229.0,683.7 L1229.7,686.0 L1230.3,688.3 L1231.0,690.6 L1231.7,692.9 L1232.3,695.3 L1233.0,697.6 L1233.7,700.0 L1234.4,702.3 L1235.0,704.7 L1235.7,707.1 L1236.4,709.5 L1237.0,711.8 L1237.7,714.3 L1238.4,716.7 L1239.1,719.1 L1239.7,721.5 L1240.4,723.9 L1241.1,726.4 L1241.7,728.8 L1242.4,731.3 L1243.1,733.8 L1243.7,736.2 L1244.4,738.7 L1245.1,741.2 L1245.8,743.7 L1246.4,746.2 L1247.1,748.7 L1247.8,751.2 L1248.4,753.7 L1249.1,756.2 L1249.8,758.7 L1250.5,761.3 L1251.1,763.8 L1251.8,766.3 L1252.5,768.9 L1253.1,771.4 L1253.8,774.0 L1254.5,776.5 L1255.1,779.1 L1255.8,781.7 L1256.5,784.2 L1257.2,786.8 L1257.8,789.4 L1258.5,792.0 L1259.2,794.6 L1259.8,797.1 L1260.5,799.7 L1261.2,802.3 L1261.9,804.9 L1262.5,807.5 L1263.2,810.1 L1263.9,812.7 L1264.5,815.3 L1265.2,817.9 L1265.9,820.5 L1266.5,823.1 L1267.2,825.7 L1267.9,828.3 L1268.6,830.9 L1269.2,833.5 L1269.9,836.1 L1270.6,838.7 L1271.2,841.3 L1271.9,843.9 L1272.6,846.5 L1273.2,849.0 L1273.9,851.6 L1274.6,854.2 L1275.3,856.8 L1275.9,859.4 L1276.6,862.0 L1277.3,864.6 L1277.9,867.1 L1278.6,869.7 L1279.3,872.3 L1280.0,874.8 L1280.6,877.4 L1281.3,880.0 L1282.0,882.5 L1282.6,885.1 L1283.3,887.6 L1284.0,890.2 L1284.6,892.7 L1285.3,895.2 L1286.0,897.7 L1286.7,900.3 L1287.3,902.8 L1288.0,905.3 L1288.7,907.8 L1289.3,910.3 L1290.0,912.8 L1290.7,915.2 L1291.4,917.7 L1292.0,920.2 L1292.7,922.6 L1293.4,925.1 L1294.0,927.5 L1294.7,930.0 L1295.4,932.4 L1296.0,934.8 L1296.7,937.2 L1297.4,939.6 L1298.1,942.0 L1298.7,944.4 L1299.4,946.7 L1300.1,949.1 L1300.7,951.4 L1301.4,953.8 L1302.1,956.1 L1302.8,958.4 L1303.4,960.7 L1304.1,963.0 L1304.8,965.3 L1305.4,967.6 L1306.1,969.9 L1306.8,972.1 L1307.4,974.4 L1308.1,976.6 L1308.8,978.8 L1309.5,981.0 L1310.1,983.2 L1310.8,985.4 L1311.5,987.6 L1312.1,989.7 L1312.8,991.9 L1313.5,994.0 L1314.2,996.1 L1314.8,998.2 L1315.5,1000.3 L1316.2,1002.4 L1316.8,1004.5 L1317.5,1006.5 L1318.2,1008.6 L1318.8,1010.6 L1319.5,1012.6 L1320.2,1014.6 L1320.9,1016.6 L1321.5,1018.6 L1322.2,1020.5 L1322.9,1022.5 L1323.5,1024.4 L1324.2,1026.3 L1324.9,1028.2 L1325.5,1030.1 L1326.2,1032.0 L1326.9,1033.8 L1327.6,1035.7 L1328.2,1037.5 L1328.9,1039.3 L1329.6,1041.1 L1330.2,1042.9 L1330.9,1044.6 L1331.6,1046.4 L1332.3,1048.1 L1332.9,1049.8 L1333.6,1051.6 L1334.3,1053.2 L1334.9,1054.9 L1335.6,1056.6 L1336.3,1058.2 L1336.9,1059.9 L1337.6,1061.5 L1338.3,1063.1 L1339.0,1064.7 L1339.6,1066.2 L1340.3,1067.8 L1341.0,1069.3 L1341.6,1070.8 L1342.3,1072.3 L1343.0,1073.8 L1343.7,1075.3 L1344.3,1076.7 L1345.0,1078.2 L1345.7,1079.6 L1346.3,1081.0 L1347.0,1082.4 L1347.7,1083.8 L1348.3,1085.2 L1349.0,1086.5 L1349.7,1087.8 L1350.4,1089.1 L1351.0,1090.4 L1351.7,1091.7 L1352.4,1093.0 L1353.0,1094.2 L1353.7,1095.5 L1354.4,1096.7 L1355.1,1097.9 L1355.7,1099.1 L1356.4,1100.3 L1357.1,1101.4 L1357.7,1102.6 L1358.4,1103.7 L1359.1,1104.8 L1359.7,1105.9 L1360.4,1107.0 L1361.1,1108.0 L1361.8,1109.1 L1362.4,1110.1 L1363.1,1111.1 L1363.8,1112.2 L1364.4,1113.1 L1365.1,1114.1 L1365.8,1115.1 L1366.4,1116.0 L1367.1,1117.0 L1367.8,1117.9 L1368.5,1118.8 L1369.1,1119.7 L1369.8,1120.5 L1370.5,1121.4 L1371.1,1122.3 L1371.8,1123.1 L1372.5,1123.9 L1373.2,1124.7 L1373.8,1125.5 L1374.5,1126.3 L1375.2,1127.1 L1375.8,1127.8 L1376.5,1128.6 L1377.2,1129.3 L1377.8,1130.0 L1378.5,1130.8 L1379.2,1131.5 L1379.9,1132.1 L1380.5,1132.8 L1381.2,1133.5 L1381.9,1134.1 L1382.5,1134.8 L1383.2,1135.4 L1383.9,1136.0 L1384.6,1136.6 L1385.2,1137.2 L1385.9,1137.8 L1386.6,1138.4 L1387.2,1139.0 L1387.9,1139.5 L1388.6,1140.1 L1389.2,1140.6 L1389.9,1141.1 L1390.6,1141.6 L1391.3,1142.2 L1391.9,1142.7 L1392.6,1143.1 L1393.3,1143.6 L1393.9,1144.1 L1394.6,1144.6 L1395.3,1145.0 L1396.0,1145.5 L1396.6,1145.9 L1397.3,1146.3 L1398.0,1146.8 L1398.6,1147.2 L1399.3,1147.6 L1400.0,1148.0 L1400.6,1148.4 L1401.3,1148.7 L1402.0,1149.1 L1402.7,1149.5 L1403.3,1149.9 L1404.0,1150.2 L1404.7,1150.6 L1405.3,1150.9 L1406.0,1151.2 L1406.7,1151.6 L1407.3,1151.9 L1408.0,1152.2 L1408.7,1152.5 L1409.4,1152.8 L1410.0,1153.1 L1410.7,1153.4 L1411.4,1153.7 L1412.0,1153.9 L1412.7,1154.2 L1413.4,1154.5 L1414.1,1154.8 L1414.7,1155.0 L1415.4,1155.3 L1416.1,1155.5 L1416.7,1155.8 L1417.4,1156.0 L1418.1,1156.2 L1418.7,1156.5 L1419.4,1156.7 L1420.1,1156.9 L1420.8,1157.1 L1421.4,1157.3 L1422.1,1157.5 L1422.8,1157.8 L1423.4,1158.0 L1424.1,1158.2 L1424.8,1158.4 L1425.5,1158.5 L1426.1,1158.7 L1426.8,1158.9 L1427.5,1159.1 L1428.1,1159.3 L1428.8,1159.5 L1429.5,1159.7 L1430.1,1159.8 L1430.8,1160.0 L1431.5,1160.2 L1432.2,1160.3 L1432.8,1160.5 L1433.5,1160.7 L1434.2,1160.8 L1434.8,1161.0 L1435.5,1161.1 L1436.2,1161.3 L1436.9,1161.4 L1437.5,1161.6 L1438.2,1161.7 L1438.9,1161.8 L1439.5,1162.0 L1440.2,1162.1 L1440.9,1162.2 L1441.5,1162.3 L1442.2,1162.4 L1442.9,1162.5 L1443.6,1162.6 L1444.2,1162.7 L1444.9,1162.8 L1445.6,1162.9 L1446.2,1163.0 L1446.9,1163.1 L1447.6,1163.2 L1448.3,1163.3 L1448.9,1163.4 L1449.6,1163.4 L1450.3,1163.5 L1450.9,1163.6 L1451.6,1163.6 L1452.3,1163.7 L1452.9,1163.8 L1453.6,1163.8 L1454.3,1163.9 L1455.0,1163.9 L1455.6,1164.0 L1456.3,1164.0 L1457.0,1164.1 L1457.6,1164.1 L1458.3,1164.2 L1459.0,1164.2 L1459.6,1164.3 L1460.3,1164.3 L1461.0,1164.3 L1461.7,1164.4 L1462.3,1164.4 L1463.0,1164.4 L1463.7,1164.5 L1464.3,1164.5 L1465.0,1164.5 L1465.7,1164.5 L1466.4,1164.5 L1467.0,1164.5 L1467.7,1164.5 L1468.4,1164.5 L1469.0,1164.5 L1469.7,1164.5 L1470.4,1164.5 L1471.0,1164.5 L1471.7,1164.5 L1472.4,1164.5 L1473.1,1164.5 L1473.7,1164.5 L1474.4,1164.5 L1475.1,1164.5 L1475.7,1164.5 L1476.4,1164.5 L1477.1,1164.5 L1477.8,1164.5 L1478.4,1164.5 L1479.1,1164.5 L1479.8,1164.5 L1480.4,1164.5 L1481.1,1164.5 L1481.8,1164.5 L1482.4,1164.5 L1483.1,1164.5 L1483.8,1164.5 L1484.5,1164.5 L1485.1,1164.5 L1485.8,1164.5 L1486.5,1164.5 L1487.1,1164.5 L1487.8,1164.5 L1488.5,1164.5 L1489.2,1164.5 L1489.8,1164.5 L1490.5,1164.5 L1491.2,1164.5 L1491.8,1164.5 L1492.5,1164.5 L1493.2,1164.5 L1493.8,1164.5 L1494.5,1164.5 L1495.2,1164.5 L1495.9,1164.5 L1496.5,1164.5 L1497.2,1164.5 L1497.9,1164.5 L1498.5,1164.5 L1499.2,1164.5 L1499.9,1164.5 L1500.5,1164.5 L1501.2,1164.5 L1501.9,1164.5 L1502.6,1164.5 L1503.2,1164.5 L1503.9,1164.5 L1504.6,1164.5 L1505.2,1164.5 L1505.9,1164.5 L1506.6,1164.5 L1507.3,1164.5 L1507.9,1164.5 L1508.6,1164.5 L1509.3,1164.5 L1509.9,1164.5 L1510.6,1164.5 L1511.3,1164.5 L1511.9,1164.5 L1512.6,1164.5 L1513.3,1164.5 L1514.0,1164.5 L1514.6,1164.5 L1515.3,1164.5 L1516.0,1164.5 L1516.6,1164.5 L1517.3,1164.5 L1518.0,1164.5 L1518.7,1164.5 L1519.3,1164.5 L1520.0,1164.5 L1520.7,1164.5 L1521.3,1164.5 L1522.0,1164.5 L1522.7,1164.5 L1523.3,1164.5 L1524.0,1164.5 L1524.7,1164.5 L1525.4,1164.5 L1526.0,1164.5 L1526.7,1164.5 L1527.4,1164.5 L1528.0,1164.5 L1528.7,1164.5 L1529.4,1164.5 L1530.1,1164.5 L1530.7,1164.5 L1531.4,1164.5 L1532.1,1164.5 L1532.7,1164.5 L1533.4,1164.5 L1534.1,1164.5 L1534.7,1164.5 L1535.4,1164.5 L1536.1,1164.5 L1536.8,1164.5 L1537.4,1164.5 L1538.1,1164.5 L1538.8,1164.5 L1539.4,1164.5 L1540.1,1164.5 L1540.8,1164.5 L1541.5,1164.5 L1542.1,1164.5 L1542.8,1164.5 L1543.5,1164.5 L1544.1,1164.5 L1544.8,1164.5 L1545.5,1164.5 L1546.1,1164.5 L1546.8,1164.5 L1547.5,1164.5 L1548.2,1164.5 L1548.8,1164.5 L1549.5,1164.5 L1550.2,1164.5 L1550.8,1164.5 L1551.5,1164.5 L1552.2,1164.5 L1552.8,1164.5 L1553.5,1164.5 L1554.2,1164.5 L1554.9,1164.5 L1555.5,1164.5 L1556.2,1164.5 L1556.9,1164.5 L1557.5,1164.5 L1558.2,1164.5 L1558.9,1164.5 L1559.6,1164.5 L1560.2,1164.5 L1560.9,1164.5 L1561.6,1164.5 L1562.2,1164.5 L1562.9,1164.5 L1563.6,1164.5 L1564.2,1164.5 L1564.9,1164.5 L1565.6,1164.5 L1566.3,1164.5 L1566.9,1164.5 L1567.6,1164.5 L1568.3,1164.5 L1568.9,1164.5 L1569.6,1164.5 L1570.3,1164.5 L1571.0,1164.5 L1571.6,1164.5 L1572.3,1164.5 L1573.0,1164.5 L1573.6,1164.5 L1574.3,1164.5 L1575.0,1164.5 L1575.6,1164.5 L1576.3,1164.5 L1577.0,1164.5 L1577.7,1164.5 L1578.3,1164.5 L1579.0,1164.5 L1579.7,1164.5 L1580.3,1164.5 L1581.0,1164.5 L1581.7,1164.5 L1582.4,1164.5 L1583.0,1164.5 L1583.7,1164.5 L1584.4,1164.5 L1585.0,1164.5 L1585.7,1164.5 L1586.4,1164.5 L1587.0,1164.5 L1587.7,1164.5 L1588.4,1164.5 L1589.1,1164.5 L1589.7,1164.5 L1590.4,1164.5 L1591.1,1164.5 L1591.7,1164.5 L1592.4,1164.5 L1593.1,1164.5 L1593.7,1164.5 L1594.4,1164.5 L1595.1,1164.5 L1595.8,1164.5 L1596.4,1164.5 L1597.1,1164.5 L1597.8,1164.5 L1598.4,1164.5 L1599.1,1164.5 L1599.8,1164.5 L1600.5,1164.5 L1601.1,1164.5 L1601.8,1164.5 L1602.5,1164.5 L1603.1,1164.5 L1603.8,1164.5 L1604.5,1164.5 L1605.1,1164.5 L1605.8,1164.5 L1606.5,1164.5 L1607.2,1164.5 L1607.8,1164.5 L1608.5,1164.5" stroke="#00ffff" stroke-width="2.6" fill="none" stroke-dasharray="9 13" transform="translate(-0.5 -0.5)" shape-rendering="crispEdges"/><path d="M266.5,1164.0 L444.0,1164.0 L467.4,1161.1 L480.6,1155.2 L495.3,1148.6 L505.6,1138.4 L521.7,1122.2 L529.0,1109.0 L540.8,1085.6 L548.1,1068.0 L555.4,1047.5 L564.2,1013.7 L570.1,996.1 L578.3,965.4 L586.7,925.8 L599.2,871.7 L609.6,823.8 L620.0,777.9 L630.4,730.0 L637.9,688.8 L648.3,649.2 L662.9,603.3 L679.6,559.6 L690.0,545.7 L706.7,523.9 L730.0,492.9 L739.8,478.5 L750.0,466.5 L761.1,443.3 L769.4,432.2 L783.3,411.9 L788.0,402.6 L804.6,385.9 L814.8,380.8 L843.5,380.8 L860.0,377.1 L886.8,363.5 L895.8,351.8 L909.2,337.5 L929.8,327.5 L945.9,327.5 L954.0,332.2 L967.4,342.9 L980.8,353.6 L994.2,364.4 L1010.0,374.1 L1018.3,377.8 L1045.2,378.7 L1061.9,381.5 L1074.8,389.8 L1088.7,401.9 L1102.6,418.5 L1111.9,433.3 L1121.1,450.0 L1136.0,477.5 L1150.0,495.4 L1164.6,514.2 L1180.2,528.8 L1189.6,549.6 L1202.1,566.2 L1210.4,585.0 L1218.8,612.1 L1227.1,632.9 L1235.4,666.2 L1243.8,705.8 L1249.0,728.8 L1257.1,767.9 L1265.4,803.3 L1273.8,838.8 L1282.1,876.2 L1290.4,917.9 L1298.8,955.4 L1304.0,988.8 L1307.3,1003.5 L1314.7,1022.5 L1322.0,1048.9 L1330.8,1079.7 L1348.4,1112.0 L1364.5,1136.9 L1393.8,1155.2 L1424.6,1161.8 L1439.3,1164.0 L1609.0,1164.0" stroke="#ff0000" stroke-width="3" fill="none" stroke-linejoin="round" shape-rendering="crispEdges"/><g stroke="#000" stroke-width="1" fill="none" shape-rendering="crispEdges"><rect x="267.5" y="129.5" width="1341" height="1035"/><path d="M267.5,1164.5V1137M402.5,1164.5V1137M534.5,1164.5V1137M669.5,1164.5V1137M804.5,1164.5V1137M936.5,1164.5V1137M1071.5,1164.5V1137M1206.5,1164.5V1137M1341.5,1164.5V1137M1473.5,1164.5V1137M1608.5,1164.5V1137M300.5,1164.5V1149M333.5,1164.5V1149M366.5,1164.5V1149M435.5,1164.5V1149M468.5,1164.5V1149M501.5,1164.5V1149M567.5,1164.5V1149M603.5,1164.5V1149M636.5,1164.5V1149M702.5,1164.5V1149M735.5,1164.5V1149M771.5,1164.5V1149M837.5,1164.5V1149M870.5,1164.5V1149M903.5,1164.5V1149M972.5,1164.5V1149M1005.5,1164.5V1149M1038.5,1164.5V1149M1104.5,1164.5V1149M1137.5,1164.5V1149M1173.5,1164.5V1149M1239.5,1164.5V1149M1272.5,1164.5V1149M1305.5,1164.5V1149M1374.5,1164.5V1149M1407.5,1164.5V1149M1440.5,1164.5V1149M1506.5,1164.5V1149M1542.5,1164.5V1149M1575.5,1164.5V1149M267,1164.5H310M267,1059.5H310M267,951.5H310M267,846.5H310M267,738.5H310M267,633.5H310M267,528.5H310M267,420.5H310M267,315.5H310M267,207.5H310M267,153.5H289M267,180.5H289M267,234.5H289M267,261.5H289M267,288.5H289M267,339.5H289M267,366.5H289M267,393.5H289M267,447.5H289M267,474.5H289M267,501.5H289M267,552.5H289M267,579.5H289M267,606.5H289M267,660.5H289M267,687.5H289M267,714.5H289M267,765.5H289M267,792.5H289M267,819.5H289M267,873.5H289M267,900.5H289M267,927.5H289M267,978.5H289M267,1005.5H289M267,1032.5H289M267,1086.5H289M267,1113.5H289M267,1137.5H289"/></g><g font-family="Liberation Sans, sans-serif" fill="#000"><text font-size="43.5" transform="translate(234.11 1180.10) scale(0.9330 1)">0</text><text font-size="43.5" transform="translate(212.39 1075.10) scale(1.0092 1)">2</text><text font-size="43.5" transform="translate(236.61 1075.10) scale(0.9330 1)">0</text><text font-size="43.5" transform="translate(213.67 967.10) scale(0.9307 1)">4</text><text font-size="43.5" transform="translate(236.61 967.10) scale(0.9330 1)">0</text><text font-size="43.5" transform="translate(212.41 862.10) scale(0.9914 1)">6</text><text font-size="43.5" transform="translate(236.61 862.10) scale(0.9330 1)">0</text><text font-size="43.5" transform="translate(212.74 754.10) scale(0.9847 1)">8</text><text font-size="43.5" transform="translate(236.61 754.10) scale(0.9330 1)">0</text><path transform="translate(193.30 647.80)" d="M0,-23.5C3,-23.8 5.5,-24.6 6.7,-26C7.8,-27.3 8.3,-28.6 8.7,-29.6L10.8,-29.6L10.8,0L7,0L7,-20.9L0,-20.9Z"/><text font-size="43.5" transform="translate(213.01 649.10) scale(0.9330 1)">0</text><text font-size="43.5" transform="translate(236.61 649.10) scale(0.9330 1)">0</text><path transform="translate(193.30 542.80)" d="M0,-23.5C3,-23.8 5.5,-24.6 6.7,-26C7.8,-27.3 8.3,-28.6 8.7,-29.6L10.8,-29.6L10.8,0L7,0L7,-20.9L0,-20.9Z"/><text font-size="43.5" transform="translate(212.39 544.10) scale(1.0092 1)">2</text><text font-size="43.5" transform="translate(236.61 544.10) scale(0.9330 1)">0</text><path transform="translate(193.30 434.80)" d="M0,-23.5C3,-23.8 5.5,-24.6 6.7,-26C7.8,-27.3 8.3,-28.6 8.7,-29.6L10.8,-29.6L10.8,0L7,0L7,-20.9L0,-20.9Z"/><text font-size="43.5" transform="translate(213.67 436.10) scale(0.9307 1)">4</text><text font-size="43.5" transform="translate(236.61 436.10) scale(0.9330 1)">0</text><path transform="translate(193.30 329.80)" d="M0,-23.5C3,-23.8 5.5,-24.6 6.7,-26C7.8,-27.3 8.3,-28.6 8.7,-29.6L10.8,-29.6L10.8,0L7,0L7,-20.9L0,-20.9Z"/><text font-size="43.5" transform="translate(212.41 331.10) scale(0.9914 1)">6</text><text font-size="43.5" transform="translate(236.61 331.10) scale(0.9330 1)">0</text><path transform="translate(193.30 221.80)" d="M0,-23.5C3,-23.8 5.5,-24.6 6.7,-26C7.8,-27.3 8.3,-28.6 8.7,-29.6L10.8,-29.6L10.8,0L7,0L7,-20.9L0,-20.9Z"/><text font-size="43.5" transform="translate(212.74 223.10) scale(0.9847 1)">8</text><text font-size="43.5" transform="translate(236.61 223.10) scale(0.9330 1)">0</text><rect x="231.30" y="1196.7" width="22.20" height="2.3"/><path transform="translate(259.00 1208.80)" d="M0,-23.5C3,-23.8 5.5,-24.6 6.7,-26C7.8,-27.3 8.3,-28.6 8.7,-29.6L10.8,-29.6L10.8,0L7,0L7,-20.9L0,-20.9Z"/><text font-size="43.5" transform="translate(278.51 1210.20) scale(0.9378 1)">0</text><rect x="378.40" y="1196.7" width="21.60" height="2.3"/><text font-size="43.5" transform="translate(398.52 1210.20) scale(0.9945 1)">8</text><rect x="510.20" y="1196.7" width="21.80" height="2.3"/><text font-size="43.5" transform="translate(530.71 1210.20) scale(0.9914 1)">6</text><rect x="645.30" y="1196.7" width="21.80" height="2.3"/><text font-size="43.5" transform="translate(666.17 1210.20) scale(0.9307 1)">4</text><rect x="780.70" y="1196.7" width="21.90" height="2.3"/><text font-size="43.5" transform="translate(800.39 1210.20) scale(1.0092 1)">2</text><text font-size="43.5" transform="translate(924.65 1210.20) scale(0.9137 1)">0</text><text font-size="43.5" transform="translate(1058.18 1210.20) scale(1.0143 1)">2</text><text font-size="43.5" transform="translate(1194.57 1210.20) scale(0.9307 1)">4</text><text font-size="43.5" transform="translate(1328.56 1210.20) scale(0.9914 1)">6</text><text font-size="43.5" transform="translate(1460.79 1210.20) scale(0.9847 1)">8</text><path transform="translate(1588.00 1208.80)" d="M0,-23.5C3,-23.8 5.5,-24.6 6.7,-26C7.8,-27.3 8.3,-28.6 8.7,-29.6L10.8,-29.6L10.8,0L7,0L7,-20.9L0,-20.9Z"/><text font-size="43.5" transform="translate(1607.61 1210.20) scale(0.9330 1)">0</text><text font-size="100" transform="translate(694.00 63.20) scale(0.5309 0.5988)">A</text><text font-size="100" transform="translate(745.87 63.20) scale(0.5642 0.5988)">R</text><text font-size="100" transform="translate(786.35 63.16) scale(0.5591 0.5567)">o</text><text font-size="100" transform="translate(817.45 63.16) scale(0.5591 0.5567)">o</text><text font-size="100" transform="translate(848.69 63.20) scale(0.5618 0.5988)">P</text><text font-size="100" transform="translate(885.04 63.20) scale(0.6030 0.5686)">l</text><text font-size="100" transform="translate(897.90 63.16) scale(0.5718 0.5567)">o</text><text font-size="100" transform="translate(930.04 63.25) scale(0.5051 0.5823)">t</text><text font-size="100" transform="translate(960.10 63.16) scale(0.5718 0.5567)">o</text><text font-size="100" transform="translate(992.41 63.20) scale(0.4865 0.5693)">f</text><text font-size="100" transform="translate(1023.80 66.14) scale(0.5185 0.6241)">"</text><text font-size="100" transform="translate(1043.62 63.20) scale(0.5146 0.5565)">x</text><text font-size="100" transform="translate(1070.49 66.14) scale(0.5666 0.6241)">"</text><text font-size="100" transform="translate(1587.77 1250.80) scale(0.3870 0.4145)">x</text><text font-size="100" transform="rotate(-90) translate(-398.44 159.30) scale(0.4078 0.4564)">E</text><text font-size="100" transform="rotate(-90) translate(-370.44 159.30) scale(0.4055 0.4202)">v</text><text font-size="100" transform="rotate(-90) translate(-350.01 159.38) scale(0.4262 0.4344)">e</text><text font-size="100" transform="rotate(-90) translate(-326.68 159.30) scale(0.4190 0.4219)">n</text><text font-size="100" transform="rotate(-90) translate(-302.91 159.46) scale(0.4033 0.4371)">t</text><text font-size="100" transform="rotate(-90) translate(-291.57 159.37) scale(0.4220 0.4356)">s</text><text font-size="100" transform="rotate(-90) translate(-258.60 159.38) scale(0.4283 0.4344)">/</text><text font-size="100" transform="rotate(-90) translate(-234.97 159.01) scale(0.3658 0.4294)">(</text><text font-size="100" transform="rotate(-90) translate(-210.03 159.38) scale(0.4184 0.4350)">0</text><text font-size="100" transform="rotate(-90) translate(-188.18 159.30) scale(0.5671 0.4582)">.</text><text font-size="100" transform="rotate(-90) translate(-174.95 159.30) scale(0.4280 0.4339)">2</text><text font-size="100" transform="rotate(-90) translate(-138.40 159.01) scale(0.3470 0.4294)">)</text></g></svg></body></html>
